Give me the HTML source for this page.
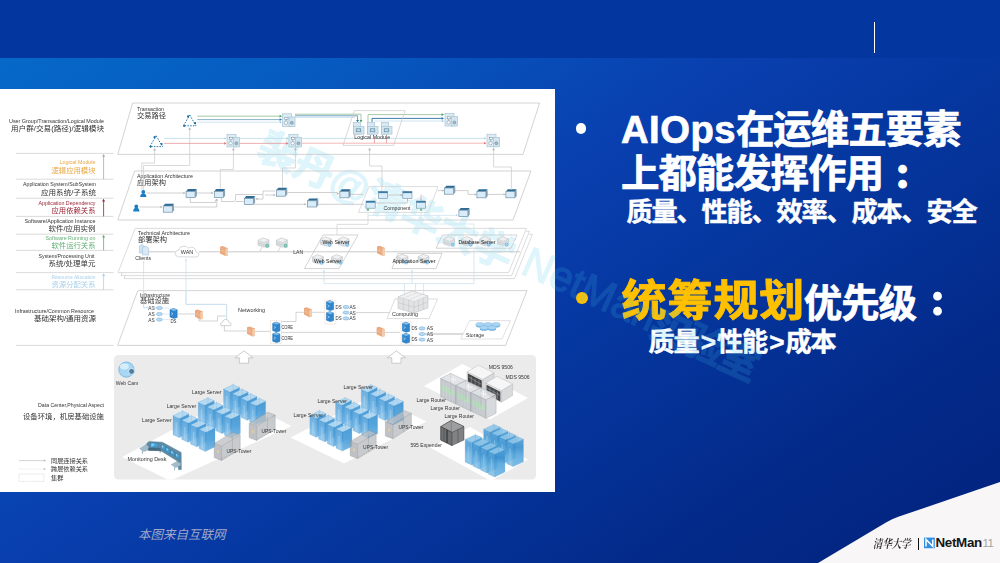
<!DOCTYPE html>
<html lang="zh-CN">
<head>
<meta charset="utf-8">
<title>AIOps在运维五要素上都能发挥作用</title>
<style>
html,body{margin:0;padding:0;}
body{width:1000px;height:563px;overflow:hidden;position:relative;font-family:"Liberation Sans","Noto Sans CJK SC",sans-serif;
 background:linear-gradient(146deg,rgb(6,108,203) 0%,rgb(6,103,200) 7%,rgb(6,91,193) 22%,rgb(8,70,180) 39%,rgb(9,63,175) 45%,rgb(5,54,158) 61%,rgb(4,47,146) 73%,rgb(3,42,138) 80%,rgb(2,34,124) 100%);}
.topband{position:absolute;left:0;top:0;width:1000px;height:58px;background:#03369e;}
.vline{position:absolute;left:874px;top:22px;width:1.4px;height:31px;background:#fff;}
.panel{position:absolute;left:0;top:89px;width:555px;height:403.4px;background:#fff;}
svg.dia{position:absolute;left:0;top:0;filter:blur(0.3px);}
svg.dia text,svg.wmtop text{font-family:"Liberation Sans","Noto Sans CJK SC",sans-serif;}
svg.wmtop{position:absolute;left:0;top:0;pointer-events:none;filter:blur(0.3px);}
.b{position:absolute;border-radius:50%;}
.h1{position:absolute;left:621px;color:#fff;font-weight:bold;font-size:38.5px;letter-spacing:-1.1px;line-height:44px;white-space:nowrap;margin:0;-webkit-text-stroke:0.7px #fff;}
.h1 .lat{letter-spacing:0.5px;font-size:38.2px;}
.jp{font-family:"Liberation Sans","Noto Sans CJK JP",sans-serif;font-size:37px;letter-spacing:0;margin-left:5px;display:inline-block;-webkit-text-stroke:3.4px #fff;transform:translateY(var(--dy,0px)) scale(0.84);transform-origin:50% 50%;}
.sub{position:absolute;color:#fff;font-weight:bold;font-size:26.2px;letter-spacing:-1.2px;line-height:30px;white-space:nowrap;margin:0;-webkit-text-stroke:0.45px #fff;}
.foot{position:absolute;left:138px;top:525.5px;font-size:12.5px;line-height:18px;font-style:italic;color:#a0a9c6;white-space:nowrap;}
.corner{position:absolute;left:0;top:0;}
.thu{position:absolute;left:873px;top:535.6px;font-family:"Liberation Serif","Noto Serif CJK SC",serif;font-size:10px;line-height:16px;color:#1a1a1a;font-style:italic;font-weight:600;white-space:nowrap;transform-origin:0 50%;transform:scale(0.94,1.2);}
.sep{position:absolute;left:917.6px;top:538px;width:1.2px;height:12px;background:#111;}
.nm{position:absolute;left:935.4px;top:535.2px;font-size:13.4px;line-height:16px;font-weight:bold;color:#151515;letter-spacing:-0.3px;white-space:nowrap;}
.pg{position:absolute;left:982.6px;top:535.4px;font-size:11.5px;line-height:16px;color:#a3a3a3;white-space:nowrap;letter-spacing:-0.6px;}
</style>
</head>
<body>
<div class="topband"></div>
<div class="vline"></div>
<div class="panel"></div>
<svg class="corner" width="1000" height="563" viewBox="0 0 1000 563">
<path d="M818,563 L886,522.4 Q892,519 899,516.6 L1000,482 L1000,563 Z" fill="#f8f6f6"/>
<rect x="924" y="537.6" width="10.8" height="10.6" fill="#2f8fe2"/>
<path d="M926,546.4 V539.4 L932.8,546.4 V539.4" fill="none" stroke="#fff" stroke-width="1.5"/>
</svg>
<svg class="dia" width="1000" height="563" viewBox="0 0 1000 563">
<defs>
<linearGradient id="gLA" x1="0" y1="0" x2="0" y2="1"><stop offset="0" stop-color="#62a9de"/><stop offset="0.45" stop-color="#74b5e4"/><stop offset="1" stop-color="#95c8ec"/></linearGradient>
<linearGradient id="gRA" x1="0" y1="0" x2="0" y2="1"><stop offset="0" stop-color="#3f95d4"/><stop offset="0.5" stop-color="#4c9fda"/><stop offset="1" stop-color="#6fb4e4"/></linearGradient>
<linearGradient id="gLB" x1="0" y1="0" x2="0" y2="1"><stop offset="0" stop-color="#5aa5dc"/><stop offset="0.3" stop-color="#4c9bd5"/><stop offset="0.55" stop-color="#6cb3e3"/><stop offset="1" stop-color="#86c3ea"/></linearGradient>
<linearGradient id="gRB" x1="0" y1="0" x2="0" y2="1"><stop offset="0" stop-color="#4a9fd9"/><stop offset="0.3" stop-color="#3a8fce"/><stop offset="0.55" stop-color="#55a6dd"/><stop offset="1" stop-color="#6fb6e5"/></linearGradient>
<clipPath id="cpL"><rect x="0" y="89" width="555" height="404"/></clipPath></defs>
<g clip-path="url(#cpL)"><g transform="translate(254.5,156.5) rotate(24.4)" opacity="0.175" font-size="40" font-weight="bold" fill="#48c6e8" stroke="#48c6e8" stroke-width="1.1">
<text x="0" y="0" textLength="277" lengthAdjust="spacing">裴丹@清华大学</text>
<text x="289" y="-3.5" font-size="42.5" font-weight="normal" stroke-width="1.3" textLength="143" lengthAdjust="spacingAndGlyphs">NetMan</text>
<text x="430" y="0" textLength="116" lengthAdjust="spacing">实验室</text>
</g></g>
<path d="M16.0,153.4 L113.4,153.4" fill="none" stroke="#d2d2d2" stroke-width="0.8"/>
<path d="M16.0,179.2 L113.4,179.2" fill="none" stroke="#d2d2d2" stroke-width="0.8"/>
<path d="M16.0,198.2 L113.4,198.2" fill="none" stroke="#d2d2d2" stroke-width="0.8"/>
<path d="M16.0,216.4 L113.4,216.4" fill="none" stroke="#d2d2d2" stroke-width="0.8"/>
<path d="M16.0,234.2 L113.4,234.2" fill="none" stroke="#d2d2d2" stroke-width="0.8"/>
<path d="M16.0,250.4 L113.4,250.4" fill="none" stroke="#d2d2d2" stroke-width="0.8"/>
<path d="M16.0,272.6 L113.4,272.6" fill="none" stroke="#d2d2d2" stroke-width="0.8"/>
<path d="M16.0,289.8 L113.4,289.8" fill="none" stroke="#d2d2d2" stroke-width="0.8"/>
<path d="M16.0,345.4 L113.4,345.4" fill="none" stroke="#d2d2d2" stroke-width="0.8"/>
<path d="M103.6,179.2 L103.6,155.4" fill="none" stroke="#a8a8a8" stroke-width="0.8"/>
<polygon points="103.6,154.0 102.1,156.7 105.1,156.7" fill="#a8a8a8" stroke="none" stroke-width="0"/>
<path d="M103.6,216.4 L103.6,200.2" fill="none" stroke="#9b2335" stroke-width="0.8"/>
<polygon points="103.6,198.8 102.1,201.5 105.1,201.5" fill="#9b2335" stroke="none" stroke-width="0"/>
<path d="M103.6,250.4 L103.6,236.2" fill="none" stroke="#5fae73" stroke-width="0.8"/>
<polygon points="103.6,234.8 102.1,237.5 105.1,237.5" fill="#5fae73" stroke="none" stroke-width="0"/>
<path d="M103.6,289.8 L103.6,274.6" fill="none" stroke="#a9cfe9" stroke-width="0.8"/>
<polygon points="103.6,273.2 102.1,275.9 105.1,275.9" fill="#a9cfe9" stroke="none" stroke-width="0"/>
<text x="104" y="122.8" font-size="5.4" text-anchor="end" textLength="95" lengthAdjust="spacingAndGlyphs" fill="#333">User Group/Transaction/Logical Module</text>
<text x="104" y="130.6" font-size="7.2" text-anchor="end" textLength="93" lengthAdjust="spacingAndGlyphs" fill="#333">用户群/交易(路径)/逻辑模块</text>
<text x="95.5" y="164.2" font-size="5.4" text-anchor="end" textLength="36" lengthAdjust="spacingAndGlyphs" fill="#e9a743">Logical Module</text>
<text x="95.5" y="172.6" font-size="7.2" text-anchor="end" textLength="44" lengthAdjust="spacingAndGlyphs" fill="#e9a743">逻辑应用模块</text>
<text x="96" y="186.4" font-size="5.4" text-anchor="end" textLength="73" lengthAdjust="spacingAndGlyphs" fill="#333">Application System/SubSystem</text>
<text x="96" y="194.6" font-size="7.2" text-anchor="end" textLength="55" lengthAdjust="spacingAndGlyphs" fill="#333">应用系统/子系统</text>
<text x="95.5" y="204.8" font-size="5.4" text-anchor="end" textLength="57" lengthAdjust="spacingAndGlyphs" fill="#9b2335">Application Dependency</text>
<text x="95.5" y="213.2" font-size="7.2" text-anchor="end" textLength="44" lengthAdjust="spacingAndGlyphs" fill="#9b2335">应用依赖关系</text>
<text x="95.5" y="222.6" font-size="5.4" text-anchor="end" textLength="71" lengthAdjust="spacingAndGlyphs" fill="#333">Software/Application Instance</text>
<text x="95.5" y="230.6" font-size="7.2" text-anchor="end" textLength="47" lengthAdjust="spacingAndGlyphs" fill="#333">软件/应用实例</text>
<text x="95.5" y="239.8" font-size="5.4" text-anchor="end" textLength="50" lengthAdjust="spacingAndGlyphs" fill="#5fae73">Software Running on</text>
<text x="95.5" y="248.0" font-size="7.2" text-anchor="end" textLength="44" lengthAdjust="spacingAndGlyphs" fill="#5fae73">软件运行关系</text>
<text x="94.5" y="258.2" font-size="5.4" text-anchor="end" textLength="56" lengthAdjust="spacingAndGlyphs" fill="#333">System/Processing Unit</text>
<text x="95.5" y="266.0" font-size="7.2" text-anchor="end" textLength="47" lengthAdjust="spacingAndGlyphs" fill="#333">系统/处理单元</text>
<text x="95.5" y="278.8" font-size="5.4" text-anchor="end" textLength="44" lengthAdjust="spacingAndGlyphs" fill="#a9cfe9">Resource Allocation</text>
<text x="95.5" y="286.8" font-size="7.2" text-anchor="end" textLength="44" lengthAdjust="spacingAndGlyphs" fill="#a9cfe9">资源分配关系</text>
<text x="94" y="312.6" font-size="5.4" text-anchor="end" textLength="79" lengthAdjust="spacingAndGlyphs" fill="#333">Infrastructure/Common Resource</text>
<text x="96" y="320.8" font-size="7.2" text-anchor="end" textLength="62" lengthAdjust="spacingAndGlyphs" fill="#333">基础架构/通用资源</text>
<text x="104" y="407.0" font-size="5.4" text-anchor="end" textLength="66" lengthAdjust="spacingAndGlyphs" fill="#333">Data Center,Physical Aspect</text>
<text x="104" y="419.2" font-size="7.4" text-anchor="end" textLength="81" lengthAdjust="spacingAndGlyphs" fill="#333">设备环境，机房基础设施</text>
<path d="M19.0,460.6 L44.0,460.6" fill="none" stroke="#c8c8c8" stroke-width="0.8"/>
<polygon points="46.0,460.6 43.8,459.3 43.8,461.9" fill="#c0c0c0" stroke="none" stroke-width="0"/>
<text x="51" y="462.8" font-size="6.2" textLength="37" lengthAdjust="spacingAndGlyphs" fill="#333">同层连接关系</text>
<path d="M19.0,469.0 L44.0,469.0" fill="none" stroke="#d8d8d8" stroke-width="0.7" stroke-dasharray="0.8 0.8"/>
<polygon points="46.0,469.0 43.8,467.7 43.8,470.3" fill="#c0c0c0" stroke="none" stroke-width="0"/>
<text x="51" y="471.4" font-size="6.2" textLength="37" lengthAdjust="spacingAndGlyphs" fill="#333">跨层依赖关系</text>
<rect x="19" y="474" width="25" height="7.4" fill="none" stroke="#cfcfcf" stroke-width="0.7" stroke-dasharray="1 0.8"/>
<text x="51" y="480.2" font-size="6.2" textLength="12.5" lengthAdjust="spacingAndGlyphs" fill="#333">集群</text>
<rect x="114" y="355" width="422" height="124.6" rx="4.5" fill="#ebebeb"/>
<polygon points="244.0,350.8 253.0,357.8 248.6,357.8 248.6,363.2 239.4,363.2 239.4,357.8 235.0,357.8" fill="#fff" stroke="#b9b9b9" stroke-width="0.7"/>
<polygon points="396.4,350.8 405.4,357.8 401.0,357.8 401.0,363.2 391.8,363.2 391.8,357.8 387.4,357.8" fill="#fff" stroke="#b9b9b9" stroke-width="0.7"/>
<polygon points="122.0,457.0 233.0,397.0 291.5,426.0 173.0,479.6 167.5,479.6" fill="#fff" stroke="none" stroke-width="0"/>
<polygon points="290.6,437.6 373.0,395.4 426.4,421.4 344.0,463.6" fill="#fff" stroke="none" stroke-width="0"/>
<polygon points="424.0,386.0 462.4,364.0 528.0,398.0 489.6,419.6" fill="#fff" stroke="none" stroke-width="0"/>
<polygon points="430.0,447.6 470.0,427.0 528.0,459.6 491.0,481.0" fill="#fff" stroke="none" stroke-width="0"/>
<circle cx="126.4" cy="369.6" r="7.6" fill="#a9d6f3" stroke="#69b2e3" stroke-width="0.8"/>
<ellipse cx="124.4" cy="366.4" rx="4.4" ry="3" fill="#d7edfa"/>
<circle cx="131.6" cy="371.4" r="3" fill="#4f7f9f" stroke="#d9eefb" stroke-width="0.9"/>
<text x="127" y="384.6" font-size="5.8" text-anchor="middle" textLength="22.5" lengthAdjust="spacingAndGlyphs" fill="#333">Web Cam</text>
<g opacity="0.93">
<polygon points="223.6,389.1 229.9,392.0 229.9,411.0 223.6,408.1" fill="url(#gLA)" stroke="#3f92d0" stroke-width="0.25"/>
<path d="M226.8,396.1 L226.8,408.4" fill="none" stroke="#a9d5f2" stroke-width="1.4" opacity="0.6"/>
<polygon points="229.9,392.0 239.5,387.4 239.5,406.4 229.9,411.0" fill="url(#gRA)" stroke="#3f92d0" stroke-width="0.25"/>
<polygon points="223.6,389.1 233.2,384.5 239.5,387.4 229.9,392.0" fill="#b3d9f2" stroke="#3f92d0" stroke-width="0.25"/>
<path d="M233.2,383.3 L233.2,390.5" fill="none" stroke="#3f92d0" stroke-width="0.25" opacity="0.7"/>
</g>
<g opacity="0.93">
<polygon points="232.3,393.7 238.6,396.6 238.6,415.6 232.3,412.7" fill="url(#gLA)" stroke="#3f92d0" stroke-width="0.25"/>
<path d="M235.4,400.7 L235.4,413.0" fill="none" stroke="#a9d5f2" stroke-width="1.4" opacity="0.6"/>
<polygon points="238.6,396.6 248.2,392.0 248.2,411.0 238.6,415.6" fill="url(#gRA)" stroke="#3f92d0" stroke-width="0.25"/>
<polygon points="232.3,393.7 241.9,389.1 248.2,392.0 238.6,396.6" fill="#b3d9f2" stroke="#3f92d0" stroke-width="0.25"/>
<path d="M241.9,387.9 L241.9,395.1" fill="none" stroke="#3f92d0" stroke-width="0.25" opacity="0.7"/>
</g>
<g opacity="0.93">
<polygon points="241.0,398.3 247.3,401.2 247.3,420.2 241.0,417.3" fill="url(#gLA)" stroke="#3f92d0" stroke-width="0.25"/>
<path d="M244.2,405.2 L244.2,417.6" fill="none" stroke="#a9d5f2" stroke-width="1.4" opacity="0.6"/>
<polygon points="247.3,401.2 256.9,396.6 256.9,415.6 247.3,420.2" fill="url(#gRA)" stroke="#3f92d0" stroke-width="0.25"/>
<polygon points="241.0,398.3 250.6,393.7 256.9,396.6 247.3,401.2" fill="#b3d9f2" stroke="#3f92d0" stroke-width="0.25"/>
<path d="M250.6,392.5 L250.6,399.7" fill="none" stroke="#3f92d0" stroke-width="0.25" opacity="0.7"/>
</g>
<g opacity="0.93">
<polygon points="249.7,402.9 256.0,405.8 256.0,424.8 249.7,421.9" fill="url(#gLA)" stroke="#3f92d0" stroke-width="0.25"/>
<path d="M252.8,409.9 L252.8,422.2" fill="none" stroke="#a9d5f2" stroke-width="1.4" opacity="0.6"/>
<polygon points="256.0,405.8 265.6,401.2 265.6,420.2 256.0,424.8" fill="url(#gRA)" stroke="#3f92d0" stroke-width="0.25"/>
<polygon points="249.7,402.9 259.3,398.3 265.6,401.2 256.0,405.8" fill="#b3d9f2" stroke="#3f92d0" stroke-width="0.25"/>
<path d="M259.3,397.1 L259.3,404.3" fill="none" stroke="#3f92d0" stroke-width="0.25" opacity="0.7"/>
</g>
<text x="221.5" y="394" font-size="5.8" text-anchor="end" textLength="29.5" lengthAdjust="spacingAndGlyphs" fill="#333">Large Server</text>
<g opacity="0.93">
<polygon points="198.3,402.4 204.6,405.3 204.6,424.3 198.3,421.4" fill="url(#gLA)" stroke="#3f92d0" stroke-width="0.25"/>
<path d="M201.4,409.4 L201.4,421.7" fill="none" stroke="#a9d5f2" stroke-width="1.4" opacity="0.6"/>
<polygon points="204.6,405.3 214.2,400.7 214.2,419.7 204.6,424.3" fill="url(#gRA)" stroke="#3f92d0" stroke-width="0.25"/>
<polygon points="198.3,402.4 207.9,397.8 214.2,400.7 204.6,405.3" fill="#b3d9f2" stroke="#3f92d0" stroke-width="0.25"/>
<path d="M207.9,396.6 L207.9,403.8" fill="none" stroke="#3f92d0" stroke-width="0.25" opacity="0.7"/>
</g>
<g opacity="0.93">
<polygon points="207.0,407.0 213.3,409.9 213.3,428.9 207.0,426.0" fill="url(#gLA)" stroke="#3f92d0" stroke-width="0.25"/>
<path d="M210.1,414.0 L210.1,426.3" fill="none" stroke="#a9d5f2" stroke-width="1.4" opacity="0.6"/>
<polygon points="213.3,409.9 222.9,405.3 222.9,424.3 213.3,428.9" fill="url(#gRA)" stroke="#3f92d0" stroke-width="0.25"/>
<polygon points="207.0,407.0 216.6,402.4 222.9,405.3 213.3,409.9" fill="#b3d9f2" stroke="#3f92d0" stroke-width="0.25"/>
<path d="M216.6,401.2 L216.6,408.4" fill="none" stroke="#3f92d0" stroke-width="0.25" opacity="0.7"/>
</g>
<g opacity="0.93">
<polygon points="215.7,411.6 222.0,414.5 222.0,433.5 215.7,430.6" fill="url(#gLA)" stroke="#3f92d0" stroke-width="0.25"/>
<path d="M218.8,418.6 L218.8,430.9" fill="none" stroke="#a9d5f2" stroke-width="1.4" opacity="0.6"/>
<polygon points="222.0,414.5 231.6,409.9 231.6,428.9 222.0,433.5" fill="url(#gRA)" stroke="#3f92d0" stroke-width="0.25"/>
<polygon points="215.7,411.6 225.3,407.0 231.6,409.9 222.0,414.5" fill="#b3d9f2" stroke="#3f92d0" stroke-width="0.25"/>
<path d="M225.3,405.8 L225.3,413.0" fill="none" stroke="#3f92d0" stroke-width="0.25" opacity="0.7"/>
</g>
<g opacity="0.93">
<polygon points="224.4,416.2 230.7,419.1 230.7,438.1 224.4,435.2" fill="url(#gLA)" stroke="#3f92d0" stroke-width="0.25"/>
<path d="M227.5,423.2 L227.5,435.5" fill="none" stroke="#a9d5f2" stroke-width="1.4" opacity="0.6"/>
<polygon points="230.7,419.1 240.3,414.5 240.3,433.5 230.7,438.1" fill="url(#gRA)" stroke="#3f92d0" stroke-width="0.25"/>
<polygon points="224.4,416.2 234.0,411.6 240.3,414.5 230.7,419.1" fill="#b3d9f2" stroke="#3f92d0" stroke-width="0.25"/>
<path d="M234.0,410.4 L234.0,417.6" fill="none" stroke="#3f92d0" stroke-width="0.25" opacity="0.7"/>
</g>
<text x="196.2" y="408" font-size="5.8" text-anchor="end" textLength="29.5" lengthAdjust="spacingAndGlyphs" fill="#333">Large Server</text>
<g opacity="0.93">
<polygon points="173.0,415.7 179.3,418.6 179.3,437.6 173.0,434.7" fill="url(#gLA)" stroke="#3f92d0" stroke-width="0.25"/>
<path d="M176.2,422.6 L176.2,434.9" fill="none" stroke="#a9d5f2" stroke-width="1.4" opacity="0.6"/>
<polygon points="179.3,418.6 188.9,414.0 188.9,433.0 179.3,437.6" fill="url(#gRA)" stroke="#3f92d0" stroke-width="0.25"/>
<polygon points="173.0,415.7 182.6,411.1 188.9,414.0 179.3,418.6" fill="#b3d9f2" stroke="#3f92d0" stroke-width="0.25"/>
<path d="M182.6,409.9 L182.6,417.1" fill="none" stroke="#3f92d0" stroke-width="0.25" opacity="0.7"/>
</g>
<g opacity="0.93">
<polygon points="181.7,420.3 188.0,423.2 188.0,442.2 181.7,439.3" fill="url(#gLA)" stroke="#3f92d0" stroke-width="0.25"/>
<path d="M184.8,427.2 L184.8,439.6" fill="none" stroke="#a9d5f2" stroke-width="1.4" opacity="0.6"/>
<polygon points="188.0,423.2 197.6,418.6 197.6,437.6 188.0,442.2" fill="url(#gRA)" stroke="#3f92d0" stroke-width="0.25"/>
<polygon points="181.7,420.3 191.3,415.7 197.6,418.6 188.0,423.2" fill="#b3d9f2" stroke="#3f92d0" stroke-width="0.25"/>
<path d="M191.3,414.5 L191.3,421.7" fill="none" stroke="#3f92d0" stroke-width="0.25" opacity="0.7"/>
</g>
<g opacity="0.93">
<polygon points="190.4,424.9 196.7,427.8 196.7,446.8 190.4,443.9" fill="url(#gLA)" stroke="#3f92d0" stroke-width="0.25"/>
<path d="M193.6,431.8 L193.6,444.1" fill="none" stroke="#a9d5f2" stroke-width="1.4" opacity="0.6"/>
<polygon points="196.7,427.8 206.3,423.2 206.3,442.2 196.7,446.8" fill="url(#gRA)" stroke="#3f92d0" stroke-width="0.25"/>
<polygon points="190.4,424.9 200.0,420.3 206.3,423.2 196.7,427.8" fill="#b3d9f2" stroke="#3f92d0" stroke-width="0.25"/>
<path d="M200.0,419.1 L200.0,426.3" fill="none" stroke="#3f92d0" stroke-width="0.25" opacity="0.7"/>
</g>
<g opacity="0.93">
<polygon points="199.1,429.5 205.4,432.4 205.4,451.4 199.1,448.5" fill="url(#gLA)" stroke="#3f92d0" stroke-width="0.25"/>
<path d="M202.2,436.4 L202.2,448.8" fill="none" stroke="#a9d5f2" stroke-width="1.4" opacity="0.6"/>
<polygon points="205.4,432.4 215.0,427.8 215.0,446.8 205.4,451.4" fill="url(#gRA)" stroke="#3f92d0" stroke-width="0.25"/>
<polygon points="199.1,429.5 208.7,424.9 215.0,427.8 205.4,432.4" fill="#b3d9f2" stroke="#3f92d0" stroke-width="0.25"/>
<path d="M208.7,423.7 L208.7,430.9" fill="none" stroke="#3f92d0" stroke-width="0.25" opacity="0.7"/>
</g>
<text x="171.6" y="422" font-size="5.8" text-anchor="end" textLength="29.5" lengthAdjust="spacingAndGlyphs" fill="#333">Large Server</text>
<g opacity="0.74">
<polygon points="249.2,423.4 267.8,412.2 275.2,415.0 256.6,426.2" fill="#bcbec1" stroke="#777b80" stroke-width="0.35"/>
<polygon points="249.2,423.4 256.6,426.2 256.6,440.4 249.2,437.6" fill="#a9acb0" stroke="#777b80" stroke-width="0.4"/>
<polygon points="256.6,426.2 275.2,415.0 275.2,429.2 256.6,440.4" fill="#b6b9bc" stroke="#777b80" stroke-width="0.4"/>
<path d="M267.4,433.9 L267.4,416.7" fill="none" stroke="#777b80" stroke-width="0.4"/>
<rect x="252.0" y="430.2" width="1.6" height="2.8" fill="#e3c15f"/>
</g>
<text x="274" y="433.4" font-size="5.8" text-anchor="middle" textLength="25" lengthAdjust="spacingAndGlyphs" fill="#333">UPS-Tower</text>
<g opacity="0.74">
<polygon points="214.2,443.4 232.8,432.2 240.2,435.0 221.6,446.2" fill="#bcbec1" stroke="#777b80" stroke-width="0.35"/>
<polygon points="214.2,443.4 221.6,446.2 221.6,460.4 214.2,457.6" fill="#a9acb0" stroke="#777b80" stroke-width="0.4"/>
<polygon points="221.6,446.2 240.2,435.0 240.2,449.2 221.6,460.4" fill="#b6b9bc" stroke="#777b80" stroke-width="0.4"/>
<path d="M232.4,453.9 L232.4,436.7" fill="none" stroke="#777b80" stroke-width="0.4"/>
<rect x="217.0" y="450.2" width="1.6" height="2.8" fill="#e3c15f"/>
</g>
<text x="239" y="453.2" font-size="5.8" text-anchor="middle" textLength="25" lengthAdjust="spacingAndGlyphs" fill="#333">UPS-Tower</text>
<g opacity="0.93">
<polygon points="361.3,389.3 367.6,392.2 367.6,411.2 361.3,408.3" fill="url(#gLA)" stroke="#3f92d0" stroke-width="0.25"/>
<path d="M364.4,396.2 L364.4,408.6" fill="none" stroke="#a9d5f2" stroke-width="1.4" opacity="0.6"/>
<polygon points="367.6,392.2 377.2,387.6 377.2,406.6 367.6,411.2" fill="url(#gRA)" stroke="#3f92d0" stroke-width="0.25"/>
<polygon points="361.3,389.3 370.9,384.7 377.2,387.6 367.6,392.2" fill="#b3d9f2" stroke="#3f92d0" stroke-width="0.25"/>
<path d="M370.9,383.5 L370.9,390.7" fill="none" stroke="#3f92d0" stroke-width="0.25" opacity="0.7"/>
</g>
<g opacity="0.93">
<polygon points="370.0,393.9 376.3,396.8 376.3,415.8 370.0,412.9" fill="url(#gLA)" stroke="#3f92d0" stroke-width="0.25"/>
<path d="M373.1,400.9 L373.1,413.2" fill="none" stroke="#a9d5f2" stroke-width="1.4" opacity="0.6"/>
<polygon points="376.3,396.8 385.9,392.2 385.9,411.2 376.3,415.8" fill="url(#gRA)" stroke="#3f92d0" stroke-width="0.25"/>
<polygon points="370.0,393.9 379.6,389.3 385.9,392.2 376.3,396.8" fill="#b3d9f2" stroke="#3f92d0" stroke-width="0.25"/>
<path d="M379.6,388.1 L379.6,395.3" fill="none" stroke="#3f92d0" stroke-width="0.25" opacity="0.7"/>
</g>
<g opacity="0.93">
<polygon points="378.7,398.5 385.0,401.4 385.0,420.4 378.7,417.5" fill="url(#gLA)" stroke="#3f92d0" stroke-width="0.25"/>
<path d="M381.8,405.4 L381.8,417.8" fill="none" stroke="#a9d5f2" stroke-width="1.4" opacity="0.6"/>
<polygon points="385.0,401.4 394.6,396.8 394.6,415.8 385.0,420.4" fill="url(#gRA)" stroke="#3f92d0" stroke-width="0.25"/>
<polygon points="378.7,398.5 388.3,393.9 394.6,396.8 385.0,401.4" fill="#b3d9f2" stroke="#3f92d0" stroke-width="0.25"/>
<path d="M388.3,392.7 L388.3,399.9" fill="none" stroke="#3f92d0" stroke-width="0.25" opacity="0.7"/>
</g>
<g opacity="0.93">
<polygon points="387.4,403.1 393.7,406.0 393.7,425.0 387.4,422.1" fill="url(#gLA)" stroke="#3f92d0" stroke-width="0.25"/>
<path d="M390.5,410.1 L390.5,422.4" fill="none" stroke="#a9d5f2" stroke-width="1.4" opacity="0.6"/>
<polygon points="393.7,406.0 403.3,401.4 403.3,420.4 393.7,425.0" fill="url(#gRA)" stroke="#3f92d0" stroke-width="0.25"/>
<polygon points="387.4,403.1 397.0,398.5 403.3,401.4 393.7,406.0" fill="#b3d9f2" stroke="#3f92d0" stroke-width="0.25"/>
<path d="M397.0,397.3 L397.0,404.5" fill="none" stroke="#3f92d0" stroke-width="0.25" opacity="0.7"/>
</g>
<text x="373" y="389" font-size="5.8" text-anchor="end" textLength="29.5" lengthAdjust="spacingAndGlyphs" fill="#333">Large Server</text>
<g opacity="0.93">
<polygon points="335.6,402.3 341.9,405.2 341.9,424.2 335.6,421.3" fill="url(#gLA)" stroke="#3f92d0" stroke-width="0.25"/>
<path d="M338.7,409.2 L338.7,421.6" fill="none" stroke="#a9d5f2" stroke-width="1.4" opacity="0.6"/>
<polygon points="341.9,405.2 351.5,400.6 351.5,419.6 341.9,424.2" fill="url(#gRA)" stroke="#3f92d0" stroke-width="0.25"/>
<polygon points="335.6,402.3 345.2,397.7 351.5,400.6 341.9,405.2" fill="#b3d9f2" stroke="#3f92d0" stroke-width="0.25"/>
<path d="M345.2,396.5 L345.2,403.7" fill="none" stroke="#3f92d0" stroke-width="0.25" opacity="0.7"/>
</g>
<g opacity="0.93">
<polygon points="344.3,406.9 350.6,409.8 350.6,428.8 344.3,425.9" fill="url(#gLA)" stroke="#3f92d0" stroke-width="0.25"/>
<path d="M347.4,413.9 L347.4,426.2" fill="none" stroke="#a9d5f2" stroke-width="1.4" opacity="0.6"/>
<polygon points="350.6,409.8 360.2,405.2 360.2,424.2 350.6,428.8" fill="url(#gRA)" stroke="#3f92d0" stroke-width="0.25"/>
<polygon points="344.3,406.9 353.9,402.3 360.2,405.2 350.6,409.8" fill="#b3d9f2" stroke="#3f92d0" stroke-width="0.25"/>
<path d="M353.9,401.1 L353.9,408.3" fill="none" stroke="#3f92d0" stroke-width="0.25" opacity="0.7"/>
</g>
<g opacity="0.93">
<polygon points="353.0,411.5 359.3,414.4 359.3,433.4 353.0,430.5" fill="url(#gLA)" stroke="#3f92d0" stroke-width="0.25"/>
<path d="M356.1,418.4 L356.1,430.8" fill="none" stroke="#a9d5f2" stroke-width="1.4" opacity="0.6"/>
<polygon points="359.3,414.4 368.9,409.8 368.9,428.8 359.3,433.4" fill="url(#gRA)" stroke="#3f92d0" stroke-width="0.25"/>
<polygon points="353.0,411.5 362.6,406.9 368.9,409.8 359.3,414.4" fill="#b3d9f2" stroke="#3f92d0" stroke-width="0.25"/>
<path d="M362.6,405.7 L362.6,412.9" fill="none" stroke="#3f92d0" stroke-width="0.25" opacity="0.7"/>
</g>
<g opacity="0.93">
<polygon points="361.7,416.1 368.0,419.0 368.0,438.0 361.7,435.1" fill="url(#gLA)" stroke="#3f92d0" stroke-width="0.25"/>
<path d="M364.8,423.1 L364.8,435.4" fill="none" stroke="#a9d5f2" stroke-width="1.4" opacity="0.6"/>
<polygon points="368.0,419.0 377.6,414.4 377.6,433.4 368.0,438.0" fill="url(#gRA)" stroke="#3f92d0" stroke-width="0.25"/>
<polygon points="361.7,416.1 371.3,411.5 377.6,414.4 368.0,419.0" fill="#b3d9f2" stroke="#3f92d0" stroke-width="0.25"/>
<path d="M371.3,410.3 L371.3,417.5" fill="none" stroke="#3f92d0" stroke-width="0.25" opacity="0.7"/>
</g>
<text x="347" y="403" font-size="5.8" text-anchor="end" textLength="29.5" lengthAdjust="spacingAndGlyphs" fill="#333">Large Server</text>
<g opacity="0.93">
<polygon points="309.9,415.3 316.2,418.2 316.2,437.2 309.9,434.3" fill="url(#gLA)" stroke="#3f92d0" stroke-width="0.25"/>
<path d="M313.0,422.2 L313.0,434.6" fill="none" stroke="#a9d5f2" stroke-width="1.4" opacity="0.6"/>
<polygon points="316.2,418.2 325.8,413.6 325.8,432.6 316.2,437.2" fill="url(#gRA)" stroke="#3f92d0" stroke-width="0.25"/>
<polygon points="309.9,415.3 319.5,410.7 325.8,413.6 316.2,418.2" fill="#b3d9f2" stroke="#3f92d0" stroke-width="0.25"/>
<path d="M319.5,409.5 L319.5,416.7" fill="none" stroke="#3f92d0" stroke-width="0.25" opacity="0.7"/>
</g>
<g opacity="0.93">
<polygon points="318.6,419.9 324.9,422.8 324.9,441.8 318.6,438.9" fill="url(#gLA)" stroke="#3f92d0" stroke-width="0.25"/>
<path d="M321.8,426.9 L321.8,439.2" fill="none" stroke="#a9d5f2" stroke-width="1.4" opacity="0.6"/>
<polygon points="324.9,422.8 334.5,418.2 334.5,437.2 324.9,441.8" fill="url(#gRA)" stroke="#3f92d0" stroke-width="0.25"/>
<polygon points="318.6,419.9 328.2,415.3 334.5,418.2 324.9,422.8" fill="#b3d9f2" stroke="#3f92d0" stroke-width="0.25"/>
<path d="M328.2,414.1 L328.2,421.3" fill="none" stroke="#3f92d0" stroke-width="0.25" opacity="0.7"/>
</g>
<g opacity="0.93">
<polygon points="327.3,424.5 333.6,427.4 333.6,446.4 327.3,443.5" fill="url(#gLA)" stroke="#3f92d0" stroke-width="0.25"/>
<path d="M330.4,431.4 L330.4,443.8" fill="none" stroke="#a9d5f2" stroke-width="1.4" opacity="0.6"/>
<polygon points="333.6,427.4 343.2,422.8 343.2,441.8 333.6,446.4" fill="url(#gRA)" stroke="#3f92d0" stroke-width="0.25"/>
<polygon points="327.3,424.5 336.9,419.9 343.2,422.8 333.6,427.4" fill="#b3d9f2" stroke="#3f92d0" stroke-width="0.25"/>
<path d="M336.9,418.7 L336.9,425.9" fill="none" stroke="#3f92d0" stroke-width="0.25" opacity="0.7"/>
</g>
<g opacity="0.93">
<polygon points="336.0,429.1 342.3,432.0 342.3,451.0 336.0,448.1" fill="url(#gLA)" stroke="#3f92d0" stroke-width="0.25"/>
<path d="M339.1,436.1 L339.1,448.4" fill="none" stroke="#a9d5f2" stroke-width="1.4" opacity="0.6"/>
<polygon points="342.3,432.0 351.9,427.4 351.9,446.4 342.3,451.0" fill="url(#gRA)" stroke="#3f92d0" stroke-width="0.25"/>
<polygon points="336.0,429.1 345.6,424.5 351.9,427.4 342.3,432.0" fill="#b3d9f2" stroke="#3f92d0" stroke-width="0.25"/>
<path d="M345.6,423.3 L345.6,430.5" fill="none" stroke="#3f92d0" stroke-width="0.25" opacity="0.7"/>
</g>
<text x="323" y="417" font-size="5.8" text-anchor="end" textLength="29.5" lengthAdjust="spacingAndGlyphs" fill="#333">Large Server</text>
<g opacity="0.74">
<polygon points="385.4,421.8 404.0,410.6 411.4,413.4 392.8,424.6" fill="#bcbec1" stroke="#777b80" stroke-width="0.35"/>
<polygon points="385.4,421.8 392.8,424.6 392.8,438.8 385.4,436.0" fill="#a9acb0" stroke="#777b80" stroke-width="0.4"/>
<polygon points="392.8,424.6 411.4,413.4 411.4,427.6 392.8,438.8" fill="#b6b9bc" stroke="#777b80" stroke-width="0.4"/>
<path d="M403.6,432.3 L403.6,415.1" fill="none" stroke="#777b80" stroke-width="0.4"/>
<rect x="388.2" y="428.6" width="1.6" height="2.8" fill="#e3c15f"/>
</g>
<text x="411" y="429.2" font-size="5.8" text-anchor="middle" textLength="25" lengthAdjust="spacingAndGlyphs" fill="#333">UPS-Tower</text>
<g opacity="0.74">
<polygon points="350.2,441.6 368.8,430.4 376.2,433.2 357.6,444.4" fill="#bcbec1" stroke="#777b80" stroke-width="0.35"/>
<polygon points="350.2,441.6 357.6,444.4 357.6,458.6 350.2,455.8" fill="#a9acb0" stroke="#777b80" stroke-width="0.4"/>
<polygon points="357.6,444.4 376.2,433.2 376.2,447.4 357.6,458.6" fill="#b6b9bc" stroke="#777b80" stroke-width="0.4"/>
<path d="M368.4,452.1 L368.4,434.9" fill="none" stroke="#777b80" stroke-width="0.4"/>
<rect x="353.0" y="448.4" width="1.6" height="2.8" fill="#e3c15f"/>
</g>
<text x="375.6" y="449.2" font-size="5.8" text-anchor="middle" textLength="25" lengthAdjust="spacingAndGlyphs" fill="#333">UPS-Tower</text>
<polygon points="146.5,443.8 149.0,441.4 162.5,442.2 181.2,452.4 181.4,469.6 178.6,469.8 177.2,461.0 160.8,450.8 148.6,450.4 146.5,448.6" fill="#5f8ba2" stroke="#4f7b92" stroke-width="0.4"/>
<polygon points="148.6,447.8 160.4,448.2 161.0,450.8 148.6,450.4" fill="#44697e" stroke="none" stroke-width="0"/>
<polygon points="150.6,442.9 158.2,443.3 158.0,447.5 150.4,447.1" fill="#44a3da" stroke="#2f6f95" stroke-width="0.35"/>
<polygon points="151.4,443.5 155.0,443.7 152.4,446.6 151.2,446.5" fill="#8fcdee" stroke="none" stroke-width="0"/>
<polygon points="161.2,444.2 165.1,446.6 165.1,450.7 161.2,448.3" fill="#44a3da" stroke="#2f6f95" stroke-width="0.35"/>
<polygon points="161.8,445.1 163.8,446.3 162.0,448.2" fill="#8fcdee" stroke="none" stroke-width="0"/>
<polygon points="165.9,447.1 169.8,449.4 169.8,453.6 165.9,451.2" fill="#44a3da" stroke="#2f6f95" stroke-width="0.35"/>
<polygon points="166.5,447.9 168.5,449.2 166.7,451.1" fill="#8fcdee" stroke="none" stroke-width="0"/>
<polygon points="170.6,449.9 174.5,452.2 174.5,456.4 170.6,454.0" fill="#44a3da" stroke="#2f6f95" stroke-width="0.35"/>
<polygon points="171.2,450.8 173.2,452.0 171.4,453.9" fill="#8fcdee" stroke="none" stroke-width="0"/>
<polygon points="175.3,452.8 179.2,455.1 179.2,459.2 175.3,456.9" fill="#44a3da" stroke="#2f6f95" stroke-width="0.35"/>
<polygon points="175.9,453.6 177.9,454.9 176.1,456.8" fill="#8fcdee" stroke="none" stroke-width="0"/>
<polygon points="139.6,448.4 146.0,444.6 148.6,446.4 147.4,450.4 143.0,451.6" fill="#a3bcc9" stroke="#7d9aa9" stroke-width="0.35"/>
<polygon points="171.2,464.6 177.0,461.4 181.2,463.6 180.0,466.0 175.4,467.6" fill="#a3bcc9" stroke="#7d9aa9" stroke-width="0.35"/>
<path d="M142.4,451.2 L142.4,454.0" fill="none" stroke="#7d9aa9" stroke-width="0.7"/>
<path d="M174.6,467.2 L174.6,470.4" fill="none" stroke="#7d9aa9" stroke-width="0.7"/>
<path d="M160.2,450.8 L160.2,452.6" fill="none" stroke="#44697e" stroke-width="0.8"/>
<text x="147" y="461.4" font-size="5.8" text-anchor="middle" textLength="39" lengthAdjust="spacingAndGlyphs" fill="#333">Monitoring Desk</text>
<polygon points="482.7,379.6 494.0,372.8 494.0,384.4 482.7,391.2" fill="#d9dadb" stroke="#a4a6a8" stroke-width="0.35"/>
<polygon points="467.0,372.0 478.3,365.2 494.0,372.8 482.7,379.6" fill="#f6f6f6" stroke="#a4a6a8" stroke-width="0.35"/>
<polygon points="467.0,372.0 482.7,379.6 482.7,391.2 467.0,383.6" fill="#e9e9e9" stroke="#a4a6a8" stroke-width="0.35"/>
<polygon points="467.9,373.6 481.8,380.6 481.8,390.4 467.9,383.0" fill="#45484b" stroke="none" stroke-width="0"/>
<path d="M471.4,376.7 L471.4,384.1" fill="none" stroke="#a0a3a6" stroke-width="0.5"/>
<path d="M475.2,378.6 L475.2,386.0" fill="none" stroke="#a0a3a6" stroke-width="0.5"/>
<path d="M478.9,380.4 L478.9,387.8" fill="none" stroke="#a0a3a6" stroke-width="0.5"/>
<path d="M468.6,377.0 L481.1,384.2" fill="none" stroke="#9a9da0" stroke-width="0.6"/>
<polygon points="501.3,390.7 512.6,383.9 512.6,395.5 501.3,402.3" fill="#d9dadb" stroke="#a4a6a8" stroke-width="0.35"/>
<polygon points="485.6,383.1 496.9,376.3 512.6,383.9 501.3,390.7" fill="#f6f6f6" stroke="#a4a6a8" stroke-width="0.35"/>
<polygon points="485.6,383.1 501.3,390.7 501.3,402.3 485.6,394.7" fill="#e9e9e9" stroke="#a4a6a8" stroke-width="0.35"/>
<polygon points="486.5,384.7 500.4,391.7 500.4,401.5 486.5,394.1" fill="#45484b" stroke="none" stroke-width="0"/>
<path d="M490.0,387.8 L490.0,395.2" fill="none" stroke="#a0a3a6" stroke-width="0.5"/>
<path d="M493.8,389.7 L493.8,397.1" fill="none" stroke="#a0a3a6" stroke-width="0.5"/>
<path d="M497.5,391.5 L497.5,398.9" fill="none" stroke="#a0a3a6" stroke-width="0.5"/>
<path d="M487.2,388.1 L499.7,395.3" fill="none" stroke="#9a9da0" stroke-width="0.6"/>
<text x="500.8" y="368.8" font-size="5.2" text-anchor="middle" textLength="24" lengthAdjust="spacingAndGlyphs" fill="#333">MDS 9506</text>
<text x="517.6" y="379.2" font-size="5.2" text-anchor="middle" textLength="24" lengthAdjust="spacingAndGlyphs" fill="#333">MDS 9506</text>
<g opacity="0.9">
<polygon points="440.6,378.3 455.8,385.5 455.8,404.0 440.6,396.8" fill="#bfc4ca" stroke="#8d9196" stroke-width="0.35"/>
<polygon points="441.8,384.7 454.6,390.7 454.6,396.9 441.8,390.9" fill="#a9dcae" stroke="none" stroke-width="0" opacity="0.75"/>
<path d="M443.6,381.2 L443.6,397.2" fill="none" stroke="#d4d8dc" stroke-width="0.5"/>
<path d="M446.7,382.7 L446.7,398.7" fill="none" stroke="#d4d8dc" stroke-width="0.5"/>
<path d="M449.7,384.1 L449.7,400.1" fill="none" stroke="#d4d8dc" stroke-width="0.5"/>
<path d="M452.8,385.6 L452.8,401.6" fill="none" stroke="#d4d8dc" stroke-width="0.5"/>
<polygon points="455.8,385.5 465.8,380.5 465.8,399.0 455.8,404.0" fill="#d3d6da" stroke="#8d9196" stroke-width="0.35"/>
<polygon points="440.6,378.3 450.6,373.3 465.8,380.5 455.8,385.5" fill="#dfe2e5" stroke="#8d9196" stroke-width="0.35"/>
<path d="M450.0,378.8 L456.4,380.0" fill="none" stroke="#fff" stroke-width="1.0" stroke-dasharray="1.6 0.8"/>
<path d="M453.2,376.8 L453.2,382.2" fill="none" stroke="#fff" stroke-width="0.9" stroke-dasharray="1.4 0.8"/>
<path d="M450.6,373.3 L450.6,391.8" fill="none" stroke="#8d9196" stroke-width="0.3" stroke-dasharray="1.5 1"/>
</g>
<g opacity="0.9">
<polygon points="455.8,385.5 471.0,392.7 471.0,411.2 455.8,404.0" fill="#bfc4ca" stroke="#8d9196" stroke-width="0.35"/>
<polygon points="457.0,391.9 469.8,397.9 469.8,404.1 457.0,398.1" fill="#a9dcae" stroke="none" stroke-width="0" opacity="0.75"/>
<path d="M458.8,388.4 L458.8,404.4" fill="none" stroke="#d4d8dc" stroke-width="0.5"/>
<path d="M461.8,389.8 L461.8,405.8" fill="none" stroke="#d4d8dc" stroke-width="0.5"/>
<path d="M464.9,391.3 L464.9,407.3" fill="none" stroke="#d4d8dc" stroke-width="0.5"/>
<path d="M467.9,392.7 L467.9,408.7" fill="none" stroke="#d4d8dc" stroke-width="0.5"/>
<polygon points="471.0,392.7 481.0,387.7 481.0,406.2 471.0,411.2" fill="#d3d6da" stroke="#8d9196" stroke-width="0.35"/>
<polygon points="455.8,385.5 465.8,380.5 481.0,387.7 471.0,392.7" fill="#dfe2e5" stroke="#8d9196" stroke-width="0.35"/>
<path d="M465.2,386.0 L471.6,387.2" fill="none" stroke="#fff" stroke-width="1.0" stroke-dasharray="1.6 0.8"/>
<path d="M468.4,384.0 L468.4,389.4" fill="none" stroke="#fff" stroke-width="0.9" stroke-dasharray="1.4 0.8"/>
<path d="M465.8,380.5 L465.8,399.0" fill="none" stroke="#8d9196" stroke-width="0.3" stroke-dasharray="1.5 1"/>
</g>
<g opacity="0.9">
<polygon points="470.9,392.6 486.1,399.8 486.1,418.3 470.9,411.1" fill="#bfc4ca" stroke="#8d9196" stroke-width="0.35"/>
<polygon points="472.1,399.0 484.9,405.0 484.9,411.2 472.1,405.2" fill="#a9dcae" stroke="none" stroke-width="0" opacity="0.75"/>
<path d="M473.9,395.5 L473.9,411.5" fill="none" stroke="#d4d8dc" stroke-width="0.5"/>
<path d="M477.0,397.0 L477.0,413.0" fill="none" stroke="#d4d8dc" stroke-width="0.5"/>
<path d="M480.0,398.4 L480.0,414.4" fill="none" stroke="#d4d8dc" stroke-width="0.5"/>
<path d="M483.1,399.9 L483.1,415.9" fill="none" stroke="#d4d8dc" stroke-width="0.5"/>
<polygon points="486.1,399.8 496.1,394.8 496.1,413.3 486.1,418.3" fill="#d3d6da" stroke="#8d9196" stroke-width="0.35"/>
<polygon points="470.9,392.6 480.9,387.6 496.1,394.8 486.1,399.8" fill="#dfe2e5" stroke="#8d9196" stroke-width="0.35"/>
<path d="M480.3,393.1 L486.7,394.3" fill="none" stroke="#fff" stroke-width="1.0" stroke-dasharray="1.6 0.8"/>
<path d="M483.5,391.1 L483.5,396.5" fill="none" stroke="#fff" stroke-width="0.9" stroke-dasharray="1.4 0.8"/>
<path d="M480.9,387.6 L480.9,406.1" fill="none" stroke="#8d9196" stroke-width="0.3" stroke-dasharray="1.5 1"/>
</g>
<text x="446" y="401.6" font-size="5.8" text-anchor="end" textLength="29.5" lengthAdjust="spacingAndGlyphs" fill="#333">Large Router</text>
<text x="460" y="410" font-size="5.8" text-anchor="end" textLength="29.5" lengthAdjust="spacingAndGlyphs" fill="#333">Large Router</text>
<text x="474" y="417.6" font-size="5.8" text-anchor="end" textLength="29.5" lengthAdjust="spacingAndGlyphs" fill="#333">Large Router</text>
<polygon points="440.8,426.6 451.2,420.4 464.0,426.6 464.0,440.0 452.0,445.6 440.8,440.0" fill="#808284" stroke="#2c2c2c" stroke-width="0.4"/>
<polygon points="440.8,426.6 451.2,420.4 464.0,426.6 452.0,432.4" fill="#9c9ea0" stroke="#2c2c2c" stroke-width="0.4"/>
<polygon points="440.8,426.6 452.0,432.4 452.0,445.6 440.8,440.0" fill="#6e7072" stroke="#2c2c2c" stroke-width="0.4"/>
<path d="M447.0,429.8 L447.0,443.0" fill="none" stroke="#1e1e1e" stroke-width="0.9"/>
<path d="M444.0,428.2 L444.0,441.6" fill="none" stroke="#333" stroke-width="0.4"/>
<path d="M458.0,429.6 L458.0,442.8" fill="none" stroke="#333" stroke-width="0.4"/>
<path d="M451.2,420.4 L451.2,432.0" fill="none" stroke="#444" stroke-width="0.3"/>
<text x="442" y="447" font-size="5.8" text-anchor="end" textLength="31.5" lengthAdjust="spacingAndGlyphs" fill="#333">595 Expender</text>
<g opacity="0.9">
<polygon points="483.7,429.2 490.1,432.1 490.1,454.6 483.7,451.7" fill="url(#gLB)" stroke="#3a88c0" stroke-width="0.25"/>
<path d="M486.9,436.2 L486.9,452.0" fill="none" stroke="#8cc6ec" stroke-width="1.4" opacity="0.6"/>
<polygon points="490.1,432.1 500.3,427.3 500.3,449.8 490.1,454.6" fill="url(#gRB)" stroke="#3a88c0" stroke-width="0.25"/>
<polygon points="483.7,429.2 493.9,424.4 500.3,427.3 490.1,432.1" fill="#8ec6ea" stroke="#3a88c0" stroke-width="0.25"/>
<path d="M493.9,423.2 L493.9,430.4" fill="none" stroke="#3a88c0" stroke-width="0.25" opacity="0.7"/>
</g>
<g opacity="0.9">
<polygon points="491.4,433.2 497.8,436.1 497.8,458.6 491.4,455.7" fill="url(#gLB)" stroke="#3a88c0" stroke-width="0.25"/>
<path d="M494.6,440.2 L494.6,456.0" fill="none" stroke="#8cc6ec" stroke-width="1.4" opacity="0.6"/>
<polygon points="497.8,436.1 508.0,431.3 508.0,453.8 497.8,458.6" fill="url(#gRB)" stroke="#3a88c0" stroke-width="0.25"/>
<polygon points="491.4,433.2 501.6,428.4 508.0,431.3 497.8,436.1" fill="#8ec6ea" stroke="#3a88c0" stroke-width="0.25"/>
<path d="M501.6,427.2 L501.6,434.4" fill="none" stroke="#3a88c0" stroke-width="0.25" opacity="0.7"/>
</g>
<g opacity="0.9">
<polygon points="499.1,437.2 505.5,440.1 505.5,462.6 499.1,459.7" fill="url(#gLB)" stroke="#3a88c0" stroke-width="0.25"/>
<path d="M502.3,444.2 L502.3,460.0" fill="none" stroke="#8cc6ec" stroke-width="1.4" opacity="0.6"/>
<polygon points="505.5,440.1 515.7,435.3 515.7,457.8 505.5,462.6" fill="url(#gRB)" stroke="#3a88c0" stroke-width="0.25"/>
<polygon points="499.1,437.2 509.3,432.4 515.7,435.3 505.5,440.1" fill="#8ec6ea" stroke="#3a88c0" stroke-width="0.25"/>
<path d="M509.3,431.2 L509.3,438.4" fill="none" stroke="#3a88c0" stroke-width="0.25" opacity="0.7"/>
</g>
<g opacity="0.9">
<polygon points="506.8,441.2 513.2,444.1 513.2,466.6 506.8,463.7" fill="url(#gLB)" stroke="#3a88c0" stroke-width="0.25"/>
<path d="M510.0,448.2 L510.0,464.0" fill="none" stroke="#8cc6ec" stroke-width="1.4" opacity="0.6"/>
<polygon points="513.2,444.1 523.4,439.3 523.4,461.8 513.2,466.6" fill="url(#gRB)" stroke="#3a88c0" stroke-width="0.25"/>
<polygon points="506.8,441.2 517.0,436.4 523.4,439.3 513.2,444.1" fill="#8ec6ea" stroke="#3a88c0" stroke-width="0.25"/>
<path d="M517.0,435.2 L517.0,442.4" fill="none" stroke="#3a88c0" stroke-width="0.25" opacity="0.7"/>
</g>
<g opacity="0.9">
<polygon points="465.2,439.5 471.6,442.4 471.6,464.9 465.2,462.0" fill="url(#gLB)" stroke="#3a88c0" stroke-width="0.25"/>
<path d="M468.4,446.4 L468.4,462.2" fill="none" stroke="#8cc6ec" stroke-width="1.4" opacity="0.6"/>
<polygon points="471.6,442.4 481.8,437.6 481.8,460.1 471.6,464.9" fill="url(#gRB)" stroke="#3a88c0" stroke-width="0.25"/>
<polygon points="465.2,439.5 475.4,434.7 481.8,437.6 471.6,442.4" fill="#8ec6ea" stroke="#3a88c0" stroke-width="0.25"/>
<path d="M475.4,433.5 L475.4,440.7" fill="none" stroke="#3a88c0" stroke-width="0.25" opacity="0.7"/>
</g>
<g opacity="0.9">
<polygon points="472.9,443.5 479.3,446.4 479.3,468.9 472.9,466.0" fill="url(#gLB)" stroke="#3a88c0" stroke-width="0.25"/>
<path d="M476.1,450.4 L476.1,466.2" fill="none" stroke="#8cc6ec" stroke-width="1.4" opacity="0.6"/>
<polygon points="479.3,446.4 489.5,441.6 489.5,464.1 479.3,468.9" fill="url(#gRB)" stroke="#3a88c0" stroke-width="0.25"/>
<polygon points="472.9,443.5 483.1,438.7 489.5,441.6 479.3,446.4" fill="#8ec6ea" stroke="#3a88c0" stroke-width="0.25"/>
<path d="M483.1,437.5 L483.1,444.7" fill="none" stroke="#3a88c0" stroke-width="0.25" opacity="0.7"/>
</g>
<g opacity="0.9">
<polygon points="480.6,447.5 487.0,450.4 487.0,472.9 480.6,470.0" fill="url(#gLB)" stroke="#3a88c0" stroke-width="0.25"/>
<path d="M483.8,454.4 L483.8,470.2" fill="none" stroke="#8cc6ec" stroke-width="1.4" opacity="0.6"/>
<polygon points="487.0,450.4 497.2,445.6 497.2,468.1 487.0,472.9" fill="url(#gRB)" stroke="#3a88c0" stroke-width="0.25"/>
<polygon points="480.6,447.5 490.8,442.7 497.2,445.6 487.0,450.4" fill="#8ec6ea" stroke="#3a88c0" stroke-width="0.25"/>
<path d="M490.8,441.5 L490.8,448.7" fill="none" stroke="#3a88c0" stroke-width="0.25" opacity="0.7"/>
</g>
<g opacity="0.9">
<polygon points="488.3,451.5 494.7,454.4 494.7,476.9 488.3,474.0" fill="url(#gLB)" stroke="#3a88c0" stroke-width="0.25"/>
<path d="M491.5,458.4 L491.5,474.2" fill="none" stroke="#8cc6ec" stroke-width="1.4" opacity="0.6"/>
<polygon points="494.7,454.4 504.9,449.6 504.9,472.1 494.7,476.9" fill="url(#gRB)" stroke="#3a88c0" stroke-width="0.25"/>
<polygon points="488.3,451.5 498.5,446.7 504.9,449.6 494.7,454.4" fill="#8ec6ea" stroke="#3a88c0" stroke-width="0.25"/>
<path d="M498.5,445.5 L498.5,452.7" fill="none" stroke="#3a88c0" stroke-width="0.25" opacity="0.7"/>
</g>
<polygon points="137.8,290.6 527.0,290.6 505.6,345.4 117.6,345.4" fill="none" stroke="#c8c8c8" stroke-width="0.8"/>
<path d="M143.6,290.6 L143.6,307.6 L157.0,307.6" fill="none" stroke="#c6deee" stroke-width="0.7"/>
<path d="M186.0,290.6 L186.0,304.4 L226.6,304.4 L226.6,319.0" fill="none" stroke="#c6deee" stroke-width="0.7"/>
<path d="M404.4,283.6 L404.4,296.0" fill="none" stroke="#c6deee" stroke-width="0.7"/>
<path d="M415.6,283.6 L415.6,296.0" fill="none" stroke="#c6deee" stroke-width="0.7"/>
<path d="M423.6,283.6 L423.6,296.0" fill="none" stroke="#c6deee" stroke-width="0.7"/>
<text x="140" y="297" font-size="5.4" textLength="30" lengthAdjust="spacingAndGlyphs" fill="#333">Infrastructure</text>
<text x="140" y="303.4" font-size="7.2" textLength="29" lengthAdjust="spacingAndGlyphs" fill="#333">基础设施</text>
<text x="151.4" y="310" font-size="5.4" text-anchor="middle" textLength="6.4" lengthAdjust="spacingAndGlyphs" fill="#333">AS</text>
<ellipse cx="159.4" cy="308" rx="3" ry="1.6" fill="#b9dbf2" stroke="#63a6da" stroke-width="0.5"/>
<path d="M162.4,308.0 L170.0,308.0" fill="none" stroke="#c6deee" stroke-width="0.6"/>
<text x="151.4" y="316" font-size="5.4" text-anchor="middle" textLength="6.4" lengthAdjust="spacingAndGlyphs" fill="#333">AS</text>
<ellipse cx="159.4" cy="314" rx="3" ry="1.6" fill="#b9dbf2" stroke="#63a6da" stroke-width="0.5"/>
<path d="M162.4,314.0 L170.0,314.0" fill="none" stroke="#c6deee" stroke-width="0.6"/>
<text x="151.4" y="321.6" font-size="5.4" text-anchor="middle" textLength="6.4" lengthAdjust="spacingAndGlyphs" fill="#333">AS</text>
<ellipse cx="159.4" cy="319.6" rx="3" ry="1.6" fill="#b9dbf2" stroke="#63a6da" stroke-width="0.5"/>
<path d="M162.4,319.6 L170.0,319.6" fill="none" stroke="#c6deee" stroke-width="0.6"/>
<polygon points="170.0,309.6 173.4,308.4 177.2,309.8 177.2,317.4 173.8,318.4 170.0,317.0" fill="#2f86cf" stroke="#1d6cb0" stroke-width="0.5"/>
<polygon points="170.0,309.6 173.4,308.4 177.2,309.8 173.8,311.0" fill="#7fbdeb" stroke="none" stroke-width="0"/>
<path d="M171.2,312.6 L173.0,313.8 L171.2,315.0" fill="none" stroke="#d9ecfa" stroke-width="0.6"/>
<text x="173.4" y="322.6" font-size="5" text-anchor="middle" textLength="6" lengthAdjust="spacingAndGlyphs" fill="#333">DS</text>
<path d="M177.4,314.0 L195.0,314.0" fill="none" stroke="#c2c2c2" stroke-width="0.7"/>
<path d="M199.0,318.6 L199.0,321.0 L217.6,321.0 L217.6,316.0 L226.0,316.0" fill="none" stroke="#c2c2c2" stroke-width="0.7"/>
<path d="M221,325.6 q-1.6,-2.6 1.4,-3.2 q0.6,-3 3.4,-3 q2.8,0 3.4,3 q3,0.6 1.4,3.2 z" fill="#fff" stroke="#bdbdbd" stroke-width="0.7"/>
<path d="M224.4,325.6 L224.4,331.0 L247.0,331.0" fill="none" stroke="#c2c2c2" stroke-width="0.7"/>
<path d="M255.0,331.4 L270.5,331.4" fill="none" stroke="#c2c2c2" stroke-width="0.7"/>
<text x="251.6" y="312" font-size="5.8" text-anchor="middle" textLength="27" lengthAdjust="spacingAndGlyphs" fill="#333">Networking</text>
<polygon points="195.0,310.2 197.6,309.4 203.0,311.6 203.0,318.8 200.4,319.4 195.0,316.8" fill="#eaa97e" stroke="none" stroke-width="0"/>
<polygon points="200.4,312.2 203.0,311.6 203.0,318.8 200.4,319.4" fill="#f3cdb0" stroke="none" stroke-width="0"/>
<path d="M195.0,313.4 L200.4,315.7" fill="none" stroke="#f3cdb0" stroke-width="0.5"/>
<path d="M197.6,311.6 L197.6,314.5" fill="none" stroke="#f3cdb0" stroke-width="0.5"/>
<polygon points="247.0,327.2 249.6,326.4 255.0,328.6 255.0,335.8 252.4,336.4 247.0,333.8" fill="#eaa97e" stroke="none" stroke-width="0"/>
<polygon points="252.4,329.2 255.0,328.6 255.0,335.8 252.4,336.4" fill="#f3cdb0" stroke="none" stroke-width="0"/>
<path d="M247.0,330.4 L252.4,332.7" fill="none" stroke="#f3cdb0" stroke-width="0.5"/>
<path d="M249.6,328.6 L249.6,331.5" fill="none" stroke="#f3cdb0" stroke-width="0.5"/>
<polygon points="304.0,308.0 306.6,307.2 312.0,309.4 312.0,316.6 309.4,317.2 304.0,314.6" fill="#eaa97e" stroke="none" stroke-width="0"/>
<polygon points="309.4,310.0 312.0,309.4 312.0,316.6 309.4,317.2" fill="#f3cdb0" stroke="none" stroke-width="0"/>
<path d="M304.0,311.2 L309.4,313.5" fill="none" stroke="#f3cdb0" stroke-width="0.5"/>
<path d="M306.6,309.4 L306.6,312.3" fill="none" stroke="#f3cdb0" stroke-width="0.5"/>
<polygon points="376.6,327.6 379.2,326.8 384.6,329.0 384.6,336.2 382.0,336.8 376.6,334.2" fill="#eaa97e" stroke="none" stroke-width="0"/>
<polygon points="382.0,329.6 384.6,329.0 384.6,336.2 382.0,336.8" fill="#f3cdb0" stroke="none" stroke-width="0"/>
<path d="M376.6,330.8 L382.0,333.1" fill="none" stroke="#f3cdb0" stroke-width="0.5"/>
<path d="M379.2,329.0 L379.2,331.9" fill="none" stroke="#f3cdb0" stroke-width="0.5"/>
<rect x="270.5" y="320.5" width="11" height="23" fill="none" stroke="#e3bfb0" stroke-width="0.5" stroke-dasharray="1 0.8"/>
<polygon points="272.7,323.2 276.1,322.0 279.9,323.4 279.9,331.0 276.5,332.0 272.7,330.6" fill="#2f86cf" stroke="#1d6cb0" stroke-width="0.5"/>
<polygon points="272.7,323.2 276.1,322.0 279.9,323.4 276.5,324.6" fill="#7fbdeb" stroke="none" stroke-width="0"/>
<path d="M273.9,326.2 L275.7,327.4 L273.9,328.6" fill="none" stroke="#d9ecfa" stroke-width="0.6"/>
<polygon points="272.7,333.8 276.1,332.6 279.9,334.0 279.9,341.6 276.5,342.6 272.7,341.2" fill="#2f86cf" stroke="#1d6cb0" stroke-width="0.5"/>
<polygon points="272.7,333.8 276.1,332.6 279.9,334.0 276.5,335.2" fill="#7fbdeb" stroke="none" stroke-width="0"/>
<path d="M273.9,336.8 L275.7,338.0 L273.9,339.2" fill="none" stroke="#d9ecfa" stroke-width="0.6"/>
<text x="287.2" y="328.8" font-size="4.8" text-anchor="middle" textLength="11.5" lengthAdjust="spacingAndGlyphs" fill="#333">CORE</text>
<text x="287.2" y="339.6" font-size="4.8" text-anchor="middle" textLength="11.5" lengthAdjust="spacingAndGlyphs" fill="#333">CORE</text>
<path d="M281.6,321.5 L296.0,321.5 L296.0,312.3 L304.0,312.3" fill="none" stroke="#c2c2c2" stroke-width="0.7"/>
<path d="M312.0,312.3 L324.5,312.3" fill="none" stroke="#c2c2c2" stroke-width="0.7"/>
<path d="M281.6,332.4 L376.6,332.4" fill="none" stroke="#c2c2c2" stroke-width="0.7"/>
<path d="M384.6,332.4 L400.0,332.4" fill="none" stroke="#c2c2c2" stroke-width="0.7"/>
<rect x="324.6" y="300" width="11.2" height="24" fill="none" stroke="#e3bfb0" stroke-width="0.5" stroke-dasharray="1 0.8"/>
<polygon points="326.4,301.8 329.8,300.6 333.6,302.0 333.6,309.6 330.2,310.6 326.4,309.2" fill="#2f86cf" stroke="#1d6cb0" stroke-width="0.5"/>
<polygon points="326.4,301.8 329.8,300.6 333.6,302.0 330.2,303.2" fill="#7fbdeb" stroke="none" stroke-width="0"/>
<path d="M327.6,304.8 L329.4,306.0 L327.6,307.2" fill="none" stroke="#d9ecfa" stroke-width="0.6"/>
<polygon points="326.4,312.8 329.8,311.6 333.6,313.0 333.6,320.6 330.2,321.6 326.4,320.2" fill="#2f86cf" stroke="#1d6cb0" stroke-width="0.5"/>
<polygon points="326.4,312.8 329.8,311.6 333.6,313.0 330.2,314.2" fill="#7fbdeb" stroke="none" stroke-width="0"/>
<path d="M327.6,315.8 L329.4,317.0 L327.6,318.2" fill="none" stroke="#d9ecfa" stroke-width="0.6"/>
<text x="338.6" y="308.8" font-size="5" text-anchor="middle" textLength="6" lengthAdjust="spacingAndGlyphs" fill="#333">DS</text>
<ellipse cx="346" cy="307" rx="3" ry="1.6" fill="#b9dbf2" stroke="#63a6da" stroke-width="0.5"/>
<text x="352.6" y="308.9" font-size="5.4" text-anchor="middle" textLength="6.4" lengthAdjust="spacingAndGlyphs" fill="#333">AS</text>
<ellipse cx="346" cy="312.6" rx="3" ry="1.6" fill="#b9dbf2" stroke="#63a6da" stroke-width="0.5"/>
<text x="352.6" y="314.5" font-size="5.4" text-anchor="middle" textLength="6.4" lengthAdjust="spacingAndGlyphs" fill="#333">AS</text>
<text x="338.6" y="320.2" font-size="5" text-anchor="middle" textLength="6" lengthAdjust="spacingAndGlyphs" fill="#333">DS</text>
<ellipse cx="346" cy="318.4" rx="3" ry="1.6" fill="#b9dbf2" stroke="#63a6da" stroke-width="0.5"/>
<text x="352.6" y="320.29999999999995" font-size="5.4" text-anchor="middle" textLength="6.4" lengthAdjust="spacingAndGlyphs" fill="#333">AS</text>
<path d="M356.0,312.6 L390.0,312.6" fill="none" stroke="#c2c2c2" stroke-width="0.7"/>
<polygon points="395.0,299.0 437.6,299.0 429.0,318.6 387.0,318.6" fill="none" stroke="#cfcfcf" stroke-width="0.7"/>
<g>
<polygon points="398.0,297.0 412.0,291.0 428.0,296.0 428.0,308.0 414.0,313.0 398.0,308.4" fill="#e2e3e4" stroke="#b9bcbe" stroke-width="0.5"/>
<polygon points="398.0,297.0 412.0,291.0 428.0,296.0 414.0,301.6" fill="#f1f1f2" stroke="#c0c3c5" stroke-width="0.4"/>
<path d="M403.3,298.5 L403.3,309.9" fill="none" stroke="#b6b9bb" stroke-width="0.4"/>
<path d="M403.3,298.5 L417.3,292.5" fill="none" stroke="#c6c8ca" stroke-width="0.4"/>
<path d="M408.6,300.0 L408.6,311.4" fill="none" stroke="#b6b9bb" stroke-width="0.4"/>
<path d="M408.6,300.0 L422.6,294.0" fill="none" stroke="#c6c8ca" stroke-width="0.4"/>
<path d="M398.0,302.6 L414.0,307.2 L428.0,302.0" fill="none" stroke="#b6b9bb" stroke-width="0.4"/>
<path d="M414.0,301.6 L414.0,313.0" fill="none" stroke="#b3b6b8" stroke-width="0.4"/>
<path d="M418.6,299.8 L418.6,311.4" fill="none" stroke="#b6b9bb" stroke-width="0.4"/>
<path d="M423.2,297.9 L423.2,309.5" fill="none" stroke="#b6b9bb" stroke-width="0.4"/>
</g>
<text x="405" y="316.2" font-size="5.8" text-anchor="middle" textLength="26" lengthAdjust="spacingAndGlyphs" fill="#333">Computing</text>
<rect x="401" y="321.6" width="10.8" height="22.6" fill="none" stroke="#e3bfb0" stroke-width="0.5" stroke-dasharray="1 0.8"/>
<polygon points="402.4,323.4 405.8,322.2 409.6,323.6 409.6,331.2 406.2,332.2 402.4,330.8" fill="#2f86cf" stroke="#1d6cb0" stroke-width="0.5"/>
<polygon points="402.4,323.4 405.8,322.2 409.6,323.6 406.2,324.8" fill="#7fbdeb" stroke="none" stroke-width="0"/>
<path d="M403.6,326.4 L405.4,327.6 L403.6,328.8" fill="none" stroke="#d9ecfa" stroke-width="0.6"/>
<polygon points="402.4,334.5 405.8,333.3 409.6,334.7 409.6,342.3 406.2,343.3 402.4,341.9" fill="#2f86cf" stroke="#1d6cb0" stroke-width="0.5"/>
<polygon points="402.4,334.5 405.8,333.3 409.6,334.7 406.2,335.9" fill="#7fbdeb" stroke="none" stroke-width="0"/>
<path d="M403.6,337.5 L405.4,338.7 L403.6,339.9" fill="none" stroke="#d9ecfa" stroke-width="0.6"/>
<text x="414.4" y="330.2" font-size="5" text-anchor="middle" textLength="6" lengthAdjust="spacingAndGlyphs" fill="#333">DS</text>
<ellipse cx="422" cy="328.4" rx="3" ry="1.6" fill="#b9dbf2" stroke="#63a6da" stroke-width="0.5"/>
<text x="430" y="330.29999999999995" font-size="5.4" text-anchor="middle" textLength="6.4" lengthAdjust="spacingAndGlyphs" fill="#333">AS</text>
<ellipse cx="422" cy="334" rx="3" ry="1.6" fill="#b9dbf2" stroke="#63a6da" stroke-width="0.5"/>
<text x="430" y="335.9" font-size="5.4" text-anchor="middle" textLength="6.4" lengthAdjust="spacingAndGlyphs" fill="#333">AS</text>
<text x="414.4" y="341.40000000000003" font-size="5" text-anchor="middle" textLength="6" lengthAdjust="spacingAndGlyphs" fill="#333">DS</text>
<ellipse cx="422" cy="339.6" rx="3" ry="1.6" fill="#b9dbf2" stroke="#63a6da" stroke-width="0.5"/>
<text x="430" y="341.5" font-size="5.4" text-anchor="middle" textLength="6.4" lengthAdjust="spacingAndGlyphs" fill="#333">AS</text>
<path d="M425.0,334.0 L463.0,334.0" fill="none" stroke="#9a9a9a" stroke-width="0.7"/>
<polygon points="469.6,320.6 510.4,320.6 502.0,339.0 460.6,339.0" fill="none" stroke="#d6d6d6" stroke-width="0.7"/>
<ellipse cx="480" cy="325.59999999999997" rx="4.2" ry="2" fill="#6fb3e3"/>
<ellipse cx="480" cy="324.4" rx="4.2" ry="2" fill="#a9d4f2" stroke="#74b4e2" stroke-width="0.4"/>
<ellipse cx="488" cy="325.59999999999997" rx="4.2" ry="2" fill="#6fb3e3"/>
<ellipse cx="488" cy="324.4" rx="4.2" ry="2" fill="#a9d4f2" stroke="#74b4e2" stroke-width="0.4"/>
<ellipse cx="496" cy="325.59999999999997" rx="4.2" ry="2" fill="#6fb3e3"/>
<ellipse cx="496" cy="324.4" rx="4.2" ry="2" fill="#a9d4f2" stroke="#74b4e2" stroke-width="0.4"/>
<ellipse cx="484" cy="328.8" rx="4.2" ry="2" fill="#6fb3e3"/>
<ellipse cx="484" cy="327.6" rx="4.2" ry="2" fill="#a9d4f2" stroke="#74b4e2" stroke-width="0.4"/>
<ellipse cx="492" cy="328.8" rx="4.2" ry="2" fill="#6fb3e3"/>
<ellipse cx="492" cy="327.6" rx="4.2" ry="2" fill="#a9d4f2" stroke="#74b4e2" stroke-width="0.4"/>
<text x="475" y="336.6" font-size="5.8" text-anchor="middle" textLength="18" lengthAdjust="spacingAndGlyphs" fill="#333">Storage</text>
<path d="M125.2,275.6 L124.0,278.6 L514.6,278.6 L532.4,234.4 L529.4,234.4" fill="none" stroke="#cdcdcd" stroke-width="0.7"/>
<path d="M122.2,272.6 L121.0,275.6 L511.6,275.6 L529.4,231.4 L526.4,231.4" fill="none" stroke="#cdcdcd" stroke-width="0.7"/>
<polygon points="135.2,228.4 526.4,228.4 508.6,272.6 118.0,272.6" fill="none" stroke="#cdcdcd" stroke-width="0.7"/>
<text x="138" y="235.2" font-size="5.4" textLength="52" lengthAdjust="spacingAndGlyphs" fill="#333">Technical Architecture</text>
<text x="138" y="242.0" font-size="7.2" textLength="29" lengthAdjust="spacingAndGlyphs" fill="#333">部署架构</text>
<path d="M147.0,251.8 L175.0,251.8" fill="none" stroke="#bdbdbd" stroke-width="0.8"/>
<path d="M199.0,251.8 L220.0,251.8" fill="none" stroke="#bdbdbd" stroke-width="0.8"/>
<path d="M228.0,251.8 L377.0,251.8" fill="none" stroke="#bdbdbd" stroke-width="0.8"/>
<path d="M385.0,251.8 L520.0,251.8" fill="none" stroke="#bdbdbd" stroke-width="0.8"/>
<polygon points="139.4,246.0 142.0,244.6 144.4,246.0 144.4,253.0 139.4,253.0" fill="#cfe2f1" stroke="#9ab9d2" stroke-width="0.5"/>
<polygon points="142.6,247.6 146.0,246.2 148.6,248.0 148.6,255.0 142.6,255.0" fill="#d9e8f4" stroke="#9ab9d2" stroke-width="0.5"/>
<text x="143.2" y="260.4" font-size="5.4" text-anchor="middle" textLength="16" lengthAdjust="spacingAndGlyphs" fill="#333">Clients</text>
<path d="M178.6,256.8 q-3.6,-0.4 -3.4,-3.6 q0.2,-2.8 3.4,-3 q0.6,-3.6 4.6,-4 q3.4,-0.4 5,2 q2.4,-2 5.4,-0.6 q2.6,1.4 2.4,4.2 q3,0.6 2.8,3 q-0.4,2.4 -3.2,2.2 z" fill="#fff" stroke="#c9c9c9" stroke-width="0.7"/>
<text x="187" y="253.8" font-size="5.6" text-anchor="middle" textLength="12.5" lengthAdjust="spacingAndGlyphs" fill="#333">WAN</text>
<polygon points="220.0,246.8 222.6,246.0 228.0,248.2 228.0,255.4 225.4,256.0 220.0,253.4" fill="#eaa97e" stroke="none" stroke-width="0"/>
<polygon points="225.4,248.8 228.0,248.2 228.0,255.4 225.4,256.0" fill="#f3cdb0" stroke="none" stroke-width="0"/>
<path d="M220.0,250.0 L225.4,252.3" fill="none" stroke="#f3cdb0" stroke-width="0.5"/>
<path d="M222.6,248.2 L222.6,251.1" fill="none" stroke="#f3cdb0" stroke-width="0.5"/>
<polygon points="377.0,246.6 379.6,245.8 385.0,248.0 385.0,255.2 382.4,255.8 377.0,253.2" fill="#eaa97e" stroke="none" stroke-width="0"/>
<polygon points="382.4,248.6 385.0,248.0 385.0,255.2 382.4,255.8" fill="#f3cdb0" stroke="none" stroke-width="0"/>
<path d="M377.0,249.8 L382.4,252.1" fill="none" stroke="#f3cdb0" stroke-width="0.5"/>
<path d="M379.6,248.0 L379.6,250.9" fill="none" stroke="#f3cdb0" stroke-width="0.5"/>
<polygon points="258.0,240.4 263.0,238.0 269.0,240.0 269.0,245.0 264.0,247.2 258.0,245.2" fill="#dcdfe1" stroke="#b9bdc0" stroke-width="0.5"/>
<polygon points="258.0,240.4 263.0,238.0 269.0,240.0 264.0,242.4" fill="#f0f1f2" stroke="#c3c6c8" stroke-width="0.4"/>
<path d="M258.0,243.0 L264.0,245.0 L269.0,242.6" fill="none" stroke="#b4b8bb" stroke-width="0.4"/>
<circle cx="267.2" cy="245.79999999999998" r="2.3" fill="#3fa58c" fill-opacity="0.85" stroke="#e8f3fa" stroke-width="0.6"/>
<path d="M265.6,245.79999999999998 h3.2 M267.2,244.2 v3.2" stroke="#d4ebf9" stroke-width="0.4" fill="none"/>
<polygon points="276.4,240.4 281.4,238.0 287.4,240.0 287.4,245.0 282.4,247.2 276.4,245.2" fill="#dcdfe1" stroke="#b9bdc0" stroke-width="0.5"/>
<polygon points="276.4,240.4 281.4,238.0 287.4,240.0 282.4,242.4" fill="#f0f1f2" stroke="#c3c6c8" stroke-width="0.4"/>
<path d="M276.4,243.0 L282.4,245.0 L287.4,242.6" fill="none" stroke="#b4b8bb" stroke-width="0.4"/>
<circle cx="285.59999999999997" cy="245.79999999999998" r="2.3" fill="#3fa58c" fill-opacity="0.85" stroke="#e8f3fa" stroke-width="0.6"/>
<path d="M284.0,245.79999999999998 h3.2 M285.59999999999997,244.2 v3.2" stroke="#d4ebf9" stroke-width="0.4" fill="none"/>
<path d="M262.0,247.0 L259.6,251.6" fill="none" stroke="#bdbdbd" stroke-width="0.6"/>
<path d="M280.4,247.0 L278.0,251.6" fill="none" stroke="#bdbdbd" stroke-width="0.6"/>
<text x="298.2" y="254" font-size="5.6" text-anchor="middle" textLength="10" lengthAdjust="spacingAndGlyphs" fill="#333">LAN</text>
<polygon points="323.0,235.0 358.0,235.0 339.0,268.6 304.4,268.6" fill="none" stroke="#c2c2c2" stroke-width="0.7"/>
<polygon points="320.4,239.4 325.4,237.0 331.4,239.0 331.4,244.0 326.4,246.2 320.4,244.2" fill="#dcdfe1" stroke="#b9bdc0" stroke-width="0.5"/>
<polygon points="320.4,239.4 325.4,237.0 331.4,239.0 326.4,241.4" fill="#f0f1f2" stroke="#c3c6c8" stroke-width="0.4"/>
<path d="M320.4,242.0 L326.4,244.0 L331.4,241.6" fill="none" stroke="#b4b8bb" stroke-width="0.4"/>
<circle cx="329.59999999999997" cy="244.79999999999998" r="2.3" fill="#62b0e4" fill-opacity="0.85" stroke="#e8f3fa" stroke-width="0.6"/>
<path d="M328.0,244.79999999999998 h3.2 M329.59999999999997,243.2 v3.2" stroke="#d4ebf9" stroke-width="0.4" fill="none"/>
<polygon points="338.0,239.4 343.0,237.0 349.0,239.0 349.0,244.0 344.0,246.2 338.0,244.2" fill="#dcdfe1" stroke="#b9bdc0" stroke-width="0.5"/>
<polygon points="338.0,239.4 343.0,237.0 349.0,239.0 344.0,241.4" fill="#f0f1f2" stroke="#c3c6c8" stroke-width="0.4"/>
<path d="M338.0,242.0 L344.0,244.0 L349.0,241.6" fill="none" stroke="#b4b8bb" stroke-width="0.4"/>
<circle cx="347.2" cy="244.79999999999998" r="2.3" fill="#62b0e4" fill-opacity="0.85" stroke="#e8f3fa" stroke-width="0.6"/>
<path d="M345.6,244.79999999999998 h3.2 M347.2,243.2 v3.2" stroke="#d4ebf9" stroke-width="0.4" fill="none"/>
<polygon points="312.4,257.2 317.4,254.8 323.4,256.8 323.4,261.8 318.4,264.0 312.4,262.0" fill="#dcdfe1" stroke="#b9bdc0" stroke-width="0.5"/>
<polygon points="312.4,257.2 317.4,254.8 323.4,256.8 318.4,259.2" fill="#f0f1f2" stroke="#c3c6c8" stroke-width="0.4"/>
<path d="M312.4,259.8 L318.4,261.8 L323.4,259.4" fill="none" stroke="#b4b8bb" stroke-width="0.4"/>
<circle cx="321.59999999999997" cy="262.59999999999997" r="2.3" fill="#62b0e4" fill-opacity="0.85" stroke="#e8f3fa" stroke-width="0.6"/>
<path d="M320.0,262.59999999999997 h3.2 M321.59999999999997,261.0 v3.2" stroke="#d4ebf9" stroke-width="0.4" fill="none"/>
<polygon points="331.4,257.2 336.4,254.8 342.4,256.8 342.4,261.8 337.4,264.0 331.4,262.0" fill="#dcdfe1" stroke="#b9bdc0" stroke-width="0.5"/>
<polygon points="331.4,257.2 336.4,254.8 342.4,256.8 337.4,259.2" fill="#f0f1f2" stroke="#c3c6c8" stroke-width="0.4"/>
<path d="M331.4,259.8 L337.4,261.8 L342.4,259.4" fill="none" stroke="#b4b8bb" stroke-width="0.4"/>
<circle cx="340.59999999999997" cy="262.59999999999997" r="2.3" fill="#62b0e4" fill-opacity="0.85" stroke="#e8f3fa" stroke-width="0.6"/>
<path d="M339.0,262.59999999999997 h3.2 M340.59999999999997,261.0 v3.2" stroke="#d4ebf9" stroke-width="0.4" fill="none"/>
<text x="336" y="244.2" font-size="5.8" text-anchor="middle" textLength="27" lengthAdjust="spacingAndGlyphs" fill="#222">Web Server</text>
<text x="327.6" y="263.2" font-size="5.8" text-anchor="middle" textLength="27" lengthAdjust="spacingAndGlyphs" fill="#222">Web Server</text>
<polygon points="398.0,253.4 442.0,253.4 436.0,268.6 392.0,268.6" fill="none" stroke="#c2c2c2" stroke-width="0.7"/>
<polygon points="397.0,256.8 402.0,254.4 408.0,256.4 408.0,261.4 403.0,263.6 397.0,261.6" fill="#dcdfe1" stroke="#b9bdc0" stroke-width="0.5"/>
<polygon points="397.0,256.8 402.0,254.4 408.0,256.4 403.0,258.8" fill="#f0f1f2" stroke="#c3c6c8" stroke-width="0.4"/>
<path d="M397.0,259.4 L403.0,261.4 L408.0,259.0" fill="none" stroke="#b4b8bb" stroke-width="0.4"/>
<circle cx="406.2" cy="262.2" r="2.3" fill="#62b0e4" fill-opacity="0.85" stroke="#e8f3fa" stroke-width="0.6"/>
<path d="M404.6,262.2 h3.2 M406.2,260.6 v3.2" stroke="#d4ebf9" stroke-width="0.4" fill="none"/>
<polygon points="418.0,256.8 423.0,254.4 429.0,256.4 429.0,261.4 424.0,263.6 418.0,261.6" fill="#dcdfe1" stroke="#b9bdc0" stroke-width="0.5"/>
<polygon points="418.0,256.8 423.0,254.4 429.0,256.4 424.0,258.8" fill="#f0f1f2" stroke="#c3c6c8" stroke-width="0.4"/>
<path d="M418.0,259.4 L424.0,261.4 L429.0,259.0" fill="none" stroke="#b4b8bb" stroke-width="0.4"/>
<circle cx="427.2" cy="262.2" r="2.3" fill="#62b0e4" fill-opacity="0.85" stroke="#e8f3fa" stroke-width="0.6"/>
<path d="M425.6,262.2 h3.2 M427.2,260.6 v3.2" stroke="#d4ebf9" stroke-width="0.4" fill="none"/>
<text x="414" y="263.2" font-size="5.8" text-anchor="middle" textLength="43" lengthAdjust="spacingAndGlyphs" fill="#222">Application Server</text>
<polygon points="442.4,235.0 517.0,235.0 511.0,248.2 436.0,248.2" fill="none" stroke="#c2c2c2" stroke-width="0.7"/>
<polygon points="443.6,239.2 448.6,236.8 454.6,238.8 454.6,243.8 449.6,246.0 443.6,244.0" fill="#dcdfe1" stroke="#b9bdc0" stroke-width="0.5"/>
<polygon points="443.6,239.2 448.6,236.8 454.6,238.8 449.6,241.2" fill="#f0f1f2" stroke="#c3c6c8" stroke-width="0.4"/>
<path d="M443.6,241.8 L449.6,243.8 L454.6,241.4" fill="none" stroke="#b4b8bb" stroke-width="0.4"/>
<circle cx="452.8" cy="244.6" r="2.3" fill="#62b0e4" fill-opacity="0.85" stroke="#e8f3fa" stroke-width="0.6"/>
<path d="M451.20000000000005,244.6 h3.2 M452.8,243.0 v3.2" stroke="#d4ebf9" stroke-width="0.4" fill="none"/>
<polygon points="461.4,239.2 466.4,236.8 472.4,238.8 472.4,243.8 467.4,246.0 461.4,244.0" fill="#dcdfe1" stroke="#b9bdc0" stroke-width="0.5"/>
<polygon points="461.4,239.2 466.4,236.8 472.4,238.8 467.4,241.2" fill="#f0f1f2" stroke="#c3c6c8" stroke-width="0.4"/>
<path d="M461.4,241.8 L467.4,243.8 L472.4,241.4" fill="none" stroke="#b4b8bb" stroke-width="0.4"/>
<circle cx="470.59999999999997" cy="244.6" r="2.3" fill="#62b0e4" fill-opacity="0.85" stroke="#e8f3fa" stroke-width="0.6"/>
<path d="M469.0,244.6 h3.2 M470.59999999999997,243.0 v3.2" stroke="#d4ebf9" stroke-width="0.4" fill="none"/>
<polygon points="479.6,239.2 484.6,236.8 490.6,238.8 490.6,243.8 485.6,246.0 479.6,244.0" fill="#dcdfe1" stroke="#b9bdc0" stroke-width="0.5"/>
<polygon points="479.6,239.2 484.6,236.8 490.6,238.8 485.6,241.2" fill="#f0f1f2" stroke="#c3c6c8" stroke-width="0.4"/>
<path d="M479.6,241.8 L485.6,243.8 L490.6,241.4" fill="none" stroke="#b4b8bb" stroke-width="0.4"/>
<circle cx="488.8" cy="244.6" r="2.3" fill="#62b0e4" fill-opacity="0.85" stroke="#e8f3fa" stroke-width="0.6"/>
<path d="M487.20000000000005,244.6 h3.2 M488.8,243.0 v3.2" stroke="#d4ebf9" stroke-width="0.4" fill="none"/>
<polygon points="497.4,239.2 502.4,236.8 508.4,238.8 508.4,243.8 503.4,246.0 497.4,244.0" fill="#dcdfe1" stroke="#b9bdc0" stroke-width="0.5"/>
<polygon points="497.4,239.2 502.4,236.8 508.4,238.8 503.4,241.2" fill="#f0f1f2" stroke="#c3c6c8" stroke-width="0.4"/>
<path d="M497.4,241.8 L503.4,243.8 L508.4,241.4" fill="none" stroke="#b4b8bb" stroke-width="0.4"/>
<circle cx="506.59999999999997" cy="244.6" r="2.3" fill="#62b0e4" fill-opacity="0.85" stroke="#e8f3fa" stroke-width="0.6"/>
<path d="M505.0,244.6 h3.2 M506.59999999999997,243.0 v3.2" stroke="#d4ebf9" stroke-width="0.4" fill="none"/>
<text x="477" y="243.6" font-size="5.8" text-anchor="middle" textLength="37" lengthAdjust="spacingAndGlyphs" fill="#222">Database Server</text>
<path d="M143.6,262.0 L143.6,307.6 L157.0,307.6" fill="none" stroke="#c6deee" stroke-width="0.7"/>
<polygon points="143.6,261.0 142.5,263.0 144.7,263.0" fill="#c6deee" stroke="none" stroke-width="0"/>
<path d="M186.0,259.6 L186.0,304.4 L226.6,304.4 L226.6,319.0" fill="none" stroke="#c6deee" stroke-width="0.7"/>
<polygon points="186.0,258.4 184.9,260.4 187.1,260.4" fill="#c6deee" stroke="none" stroke-width="0"/>
<path d="M324.0,270.6 L324.0,283.6 L474.0,283.6 L474.0,250.6" fill="none" stroke="#c6deee" stroke-width="0.7"/>
<polygon points="324.0,269.4 322.9,271.4 325.1,271.4" fill="#c6deee" stroke="none" stroke-width="0"/>
<polygon points="474.0,249.4 472.9,251.4 475.1,251.4" fill="#c6deee" stroke="none" stroke-width="0"/>
<path d="M412.0,270.6 L412.0,283.6" fill="none" stroke="#c6deee" stroke-width="0.7"/>
<polygon points="412.0,269.4 410.9,271.4 413.1,271.4" fill="#c6deee" stroke="none" stroke-width="0"/>
<polygon points="134.6,171.0 531.0,171.0 513.0,220.0 117.8,220.0" fill="none" stroke="#c8c8c8" stroke-width="0.8"/>
<text x="137" y="178.4" font-size="5.4" textLength="56" lengthAdjust="spacingAndGlyphs" fill="#333">Application Architecture</text>
<text x="137" y="185.2" font-size="7.2" textLength="29" lengthAdjust="spacingAndGlyphs" fill="#333">应用架构</text>
<path d="M146.5,193.0 L183.5,193.0" fill="none" stroke="#c4c4c4" stroke-width="0.8"/>
<polygon points="185.6,193.0 183.4,191.7 183.4,194.3" fill="#b0b0b0" stroke="none" stroke-width="0"/>
<path d="M197.0,193.0 L211.5,193.0" fill="none" stroke="#c4c4c4" stroke-width="0.8"/>
<polygon points="213.6,193.0 211.4,191.7 211.4,194.3" fill="#b0b0b0" stroke="none" stroke-width="0"/>
<path d="M139.5,207.0 L160.5,207.0" fill="none" stroke="#c4c4c4" stroke-width="0.8"/>
<polygon points="162.6,207.0 160.4,205.7 160.4,208.3" fill="#b0b0b0" stroke="none" stroke-width="0"/>
<path d="M174.5,207.0 L216.8,207.0 L216.8,199.6" fill="none" stroke="#c4c4c4" stroke-width="0.8"/>
<polygon points="216.8,198.4 215.7,200.4 217.9,200.4" fill="#b0b0b0" stroke="none" stroke-width="0"/>
<path d="M190.3,198.0 L190.3,202.5 L215.4,202.5 L215.4,199.6" fill="none" stroke="#c4c4c4" stroke-width="0.8"/>
<path d="M221.4,198.0 L221.4,201.5 L234.0,201.5 L235.6,200.0 L235.6,194.5 L263.0,194.5 L263.0,191.0 L275.0,191.0" fill="none" stroke="#c4c4c4" stroke-width="0.8"/>
<path d="M235.6,201.5 L243.6,201.5" fill="none" stroke="#c4c4c4" stroke-width="0.8"/>
<path d="M265.0,195.0 L273.5,195.0" fill="none" stroke="#c4c4c4" stroke-width="0.8"/>
<polygon points="275.6,195.0 273.5,193.8 273.5,196.2" fill="#b0b0b0" stroke="none" stroke-width="0"/>
<path d="M257.5,199.0 L263.0,199.0 L263.0,195.0" fill="none" stroke="#c4c4c4" stroke-width="0.8"/>
<polygon points="255.6,199.0 257.7,197.8 257.7,200.2" fill="#b0b0b0" stroke="none" stroke-width="0"/>
<path d="M254.0,204.3 L304.5,204.3" fill="none" stroke="#c4c4c4" stroke-width="0.8"/>
<polygon points="306.6,204.3 304.4,203.0 304.4,205.6" fill="#b0b0b0" stroke="none" stroke-width="0"/>
<path d="M287.4,192.5 L337.0,192.5" fill="none" stroke="#c4c4c4" stroke-width="0.8"/>
<polygon points="339.0,193.6 336.8,192.3 336.8,194.9" fill="#b0b0b0" stroke="none" stroke-width="0"/>
<path d="M317.0,204.3 L364.0,204.3" fill="none" stroke="#c4c4c4" stroke-width="0.8"/>
<path d="M350.0,194.4 L363.0,194.4" fill="none" stroke="#c4c4c4" stroke-width="0.8"/>
<polygon points="369.0,186.6 438.0,186.6 428.0,212.4 358.4,212.4" fill="none" stroke="#cfcfcf" stroke-width="0.7"/>
<path d="M388.0,195.0 L400.6,195.0" fill="none" stroke="#c4c4c4" stroke-width="0.8"/>
<polygon points="402.6,195.0 400.5,193.8 400.5,196.2" fill="#b0b0b0" stroke="none" stroke-width="0"/>
<path d="M375.4,203.0 L407.4,203.0 L407.4,199.6" fill="none" stroke="#c4c4c4" stroke-width="0.8"/>
<polygon points="407.4,198.6 406.4,200.4 408.4,200.4" fill="#b0b0b0" stroke="none" stroke-width="0"/>
<path d="M421.0,194.5 L421.0,199.5" fill="none" stroke="#f0a0a0" stroke-width="0.7"/>
<polygon points="421.0,201.0 420.0,199.2 422.0,199.2" fill="#f0a0a0" stroke="none" stroke-width="0"/>
<path d="M438.0,190.6 L442.5,190.6" fill="none" stroke="#c4c4c4" stroke-width="0.8"/>
<polygon points="444.4,190.6 442.3,189.4 442.3,191.8" fill="#b0b0b0" stroke="none" stroke-width="0"/>
<path d="M455.0,190.6 L468.0,190.6 L468.0,194.4 L474.5,194.4" fill="none" stroke="#c4c4c4" stroke-width="0.8"/>
<polygon points="476.6,194.4 474.5,193.2 474.5,195.6" fill="#b0b0b0" stroke="none" stroke-width="0"/>
<path d="M487.0,194.4 L503.5,194.4" fill="none" stroke="#c4c4c4" stroke-width="0.8"/>
<polygon points="505.6,194.4 503.5,193.2 503.5,195.6" fill="#b0b0b0" stroke="none" stroke-width="0"/>
<path d="M368.0,212.0 L368.0,215.4 L456.0,215.4" fill="none" stroke="#cfe3ee" stroke-width="0.8"/>
<polygon points="458.0,215.2 456.0,214.1 456.0,216.3" fill="#b9d3e0" stroke="none" stroke-width="0"/>
<path d="M421.0,212.0 L421.0,224.0 L474.0,224.0 L474.0,235.0" fill="none" stroke="#cfe3ee" stroke-width="0.7"/>
<path d="M368.0,215.4 L368.0,224.4 L337.0,224.4 L337.0,235.0" fill="none" stroke="#d0d0d0" stroke-width="0.7"/>
<text x="397" y="209.6" font-size="5.6" text-anchor="middle" textLength="27" lengthAdjust="spacingAndGlyphs" fill="#333">Component</text>
<polygon points="368.0,208.2 366.6,210.6 369.4,210.6" fill="#3fa85a" stroke="none" stroke-width="0"/>
<polygon points="421.0,208.2 419.6,210.6 422.4,210.6" fill="#3fa85a" stroke="none" stroke-width="0"/>
<circle cx="143.3" cy="192.0" r="1.9" fill="#1b7dc3"/>
<path d="M140.20000000000002,197.0 q0,-3.6 3.1,-3.6 q3.1,0 3.1,3.6 z" fill="#1b7dc3"/>
<circle cx="136.3" cy="206.4" r="1.9" fill="#1b7dc3"/>
<path d="M133.20000000000002,211.4 q0,-3.6 3.1,-3.6 q3.1,0 3.1,3.6 z" fill="#1b7dc3"/>
<polygon points="195.1,191.4 196.9,189.8 196.9,196.0 195.1,197.6" fill="#8aa3b4" stroke="none" stroke-width="0"/>
<polygon points="186.1,191.4 187.9,189.1 196.9,189.1 195.1,191.4" fill="#2d6b96" stroke="none" stroke-width="0"/>
<rect x="186.1" y="191.4" width="9" height="6.2" fill="#d8ecf9" stroke="#6f8fa3" stroke-width="0.7"/>
<polygon points="223.3,191.4 225.1,189.8 225.1,196.0 223.3,197.6" fill="#8aa3b4" stroke="none" stroke-width="0"/>
<polygon points="214.3,191.4 216.1,189.1 225.1,189.1 223.3,191.4" fill="#2d6b96" stroke="none" stroke-width="0"/>
<rect x="214.3" y="191.4" width="9" height="6.2" fill="#d8ecf9" stroke="#6f8fa3" stroke-width="0.7"/>
<polygon points="172.3,206.0 174.1,204.4 174.1,210.6 172.3,212.2" fill="#8aa3b4" stroke="none" stroke-width="0"/>
<polygon points="163.3,206.0 165.1,203.7 174.1,203.7 172.3,206.0" fill="#2d6b96" stroke="none" stroke-width="0"/>
<rect x="163.3" y="206.0" width="9" height="6.2" fill="#d8ecf9" stroke="#6f8fa3" stroke-width="0.7"/>
<polygon points="253.3,198.4 255.1,196.8 255.1,203.0 253.3,204.6" fill="#8aa3b4" stroke="none" stroke-width="0"/>
<polygon points="244.3,198.4 246.1,196.1 255.1,196.1 253.3,198.4" fill="#2d6b96" stroke="none" stroke-width="0"/>
<rect x="244.3" y="198.4" width="9" height="6.2" fill="#d8ecf9" stroke="#6f8fa3" stroke-width="0.7"/>
<polygon points="285.5,190.0 287.3,188.4 287.3,194.6 285.5,196.2" fill="#8aa3b4" stroke="none" stroke-width="0"/>
<polygon points="276.5,190.0 278.3,187.7 287.3,187.7 285.5,190.0" fill="#2d6b96" stroke="none" stroke-width="0"/>
<rect x="276.5" y="190.0" width="9" height="6.2" fill="#d8ecf9" stroke="#6f8fa3" stroke-width="0.7"/>
<polygon points="316.5,200.8 318.3,199.2 318.3,205.4 316.5,207.0" fill="#8aa3b4" stroke="none" stroke-width="0"/>
<polygon points="307.5,200.8 309.3,198.5 318.3,198.5 316.5,200.8" fill="#2d6b96" stroke="none" stroke-width="0"/>
<rect x="307.5" y="200.8" width="9" height="6.2" fill="#d8ecf9" stroke="#6f8fa3" stroke-width="0.7"/>
<polygon points="348.9,191.6 350.7,190.0 350.7,196.2 348.9,197.8" fill="#8aa3b4" stroke="none" stroke-width="0"/>
<polygon points="339.9,191.6 341.7,189.3 350.7,189.3 348.9,191.6" fill="#2d6b96" stroke="none" stroke-width="0"/>
<rect x="339.9" y="191.6" width="9" height="6.2" fill="#d8ecf9" stroke="#6f8fa3" stroke-width="0.7"/>
<polygon points="453.5,188.0 455.3,186.4 455.3,192.6 453.5,194.2" fill="#8aa3b4" stroke="none" stroke-width="0"/>
<polygon points="444.5,188.0 446.3,185.7 455.3,185.7 453.5,188.0" fill="#2d6b96" stroke="none" stroke-width="0"/>
<rect x="444.5" y="188.0" width="9" height="6.2" fill="#d8ecf9" stroke="#6f8fa3" stroke-width="0.7"/>
<polygon points="485.9,191.6 487.7,190.0 487.7,196.2 485.9,197.8" fill="#8aa3b4" stroke="none" stroke-width="0"/>
<polygon points="476.9,191.6 478.7,189.3 487.7,189.3 485.9,191.6" fill="#2d6b96" stroke="none" stroke-width="0"/>
<rect x="476.9" y="191.6" width="9" height="6.2" fill="#d8ecf9" stroke="#6f8fa3" stroke-width="0.7"/>
<polygon points="514.9,191.6 516.7,190.0 516.7,196.2 514.9,197.8" fill="#8aa3b4" stroke="none" stroke-width="0"/>
<polygon points="505.9,191.6 507.7,189.3 516.7,189.3 514.9,191.6" fill="#2d6b96" stroke="none" stroke-width="0"/>
<rect x="505.9" y="191.6" width="9" height="6.2" fill="#d8ecf9" stroke="#6f8fa3" stroke-width="0.7"/>
<polygon points="467.9,210.2 469.7,208.6 469.7,214.8 467.9,216.4" fill="#8aa3b4" stroke="none" stroke-width="0"/>
<polygon points="458.9,210.2 460.7,207.9 469.7,207.9 467.9,210.2" fill="#2d6b96" stroke="none" stroke-width="0"/>
<rect x="458.9" y="210.2" width="9" height="6.2" fill="#d8ecf9" stroke="#6f8fa3" stroke-width="0.7"/>
<rect x="378.4" y="191.4" width="9.2" height="7.2" fill="#d8ecf9" stroke="#6f8fa3" stroke-width="0.6"/>
<rect x="378.4" y="191.4" width="9.2" height="1.7" fill="#3a7aa6"/>
<rect x="402.8" y="191.4" width="9.2" height="7.2" fill="#d8ecf9" stroke="#6f8fa3" stroke-width="0.6"/>
<rect x="402.8" y="191.4" width="9.2" height="1.7" fill="#3a7aa6"/>
<rect x="366.0" y="201.0" width="9.2" height="7.2" fill="#d8ecf9" stroke="#6f8fa3" stroke-width="0.6"/>
<rect x="366.0" y="201.0" width="9.2" height="1.7" fill="#3a7aa6"/>
<rect x="416.4" y="201.0" width="9.2" height="7.2" fill="#d8ecf9" stroke="#6f8fa3" stroke-width="0.6"/>
<rect x="416.4" y="201.0" width="9.2" height="1.7" fill="#3a7aa6"/>
<polygon points="132.6,103.0 539.6,103.0 523.0,154.4 117.8,154.4" fill="none" stroke="#c8c8c8" stroke-width="0.8"/>
<text x="137" y="110.8" font-size="5.4" textLength="27" lengthAdjust="spacingAndGlyphs" fill="#333">Transaction</text>
<text x="137" y="118.4" font-size="7.2" textLength="29" lengthAdjust="spacingAndGlyphs" fill="#333">交易路径</text>
<path d="M189.7,128.8 L189.7,165.5 L143.6,165.5 L143.6,190.0" fill="none" stroke="#c9c9c9" stroke-width="0.7"/>
<polygon points="189.7,127.2 188.3,129.7 191.1,129.7" fill="#b5b5b5" stroke="none" stroke-width="0"/>
<path d="M154.6,149.6 L154.6,163.0 L141.8,163.0 L141.8,190.0" fill="none" stroke="#c9c9c9" stroke-width="0.7"/>
<polygon points="154.6,148.0 153.2,150.5 156.0,150.5" fill="#b5b5b5" stroke="none" stroke-width="0"/>
<path d="M233.4,149.4 L233.4,169.5 L220.3,169.5 L220.3,189.0" fill="none" stroke="#c9c9c9" stroke-width="0.7"/>
<polygon points="233.4,147.8 232.0,150.3 234.8,150.3" fill="#b5b5b5" stroke="none" stroke-width="0"/>
<path d="M295.4,149.4 L295.4,168.0 L282.5,168.0 L282.5,188.0" fill="none" stroke="#c9c9c9" stroke-width="0.7"/>
<polygon points="295.4,147.8 294.0,150.3 296.8,150.3" fill="#b5b5b5" stroke="none" stroke-width="0"/>
<path d="M369.6,149.4 L369.6,166.0 L382.0,166.0 L382.0,191.0" fill="none" stroke="#c9c9c9" stroke-width="0.7"/>
<polygon points="369.6,147.8 368.2,150.3 371.0,150.3" fill="#b5b5b5" stroke="none" stroke-width="0"/>
<path d="M493.6,149.4 L493.6,167.0 L511.4,167.0 L511.4,190.0" fill="none" stroke="#c9c9c9" stroke-width="0.7"/>
<polygon points="493.6,147.8 492.2,150.3 495.0,150.3" fill="#b5b5b5" stroke="none" stroke-width="0"/>
<path d="M197.2,116.2 L280.0,116.2" fill="none" stroke="#8fbc8f" stroke-width="0.8"/>
<path d="M197.2,119.6 L280.0,119.6" fill="none" stroke="#7ea9c4" stroke-width="0.9"/>
<path d="M197.2,122.2 L280.0,122.2" fill="none" stroke="#c4ddef" stroke-width="0.8"/>
<polygon points="282.0,116.2 279.6,114.8 279.6,117.6" fill="#3f9e4f" stroke="none" stroke-width="0"/>
<polygon points="282.0,119.6 279.6,118.2 279.6,121.0" fill="#2b78b0" stroke="none" stroke-width="0"/>
<polygon points="282.0,122.2 279.9,121.0 279.9,123.4" fill="#9cc8e6" stroke="none" stroke-width="0"/>
<path d="M295.0,114.2 L361.0,114.2 L361.0,120.5" fill="none" stroke="#8fbc8f" stroke-width="0.8"/>
<path d="M295.0,115.8 L357.6,115.8 L357.6,120.5" fill="none" stroke="#5d98bd" stroke-width="0.9"/>
<path d="M295.0,117.4 L355.0,117.4" fill="none" stroke="#c4ddef" stroke-width="0.8"/>
<polygon points="361.0,122.4 359.6,120.0 362.4,120.0" fill="#3f9e4f" stroke="none" stroke-width="0"/>
<polygon points="357.6,122.4 356.2,120.0 359.0,120.0" fill="#2b78b0" stroke="none" stroke-width="0"/>
<path d="M368.0,122.0 L368.0,114.6 L442.0,114.6" fill="none" stroke="#8fbc8f" stroke-width="0.8"/>
<path d="M372.0,122.0 L372.0,118.4 L442.0,118.4" fill="none" stroke="#3d7fae" stroke-width="1.0"/>
<path d="M374.0,121.0 L442.0,121.0" fill="none" stroke="#c4ddef" stroke-width="0.8"/>
<polygon points="444.0,114.6 441.6,113.2 441.6,116.0" fill="#3f9e4f" stroke="none" stroke-width="0"/>
<polygon points="444.0,118.4 441.6,117.0 441.6,119.8" fill="#2b78b0" stroke="none" stroke-width="0"/>
<polygon points="444.0,121.0 441.9,119.8 441.9,122.2" fill="#9cc8e6" stroke="none" stroke-width="0"/>
<path d="M164.0,138.4 L225.0,138.4" fill="none" stroke="#bcd9ea" stroke-width="0.8"/>
<path d="M164.0,143.4 L225.0,143.4" fill="none" stroke="#e89a9a" stroke-width="0.8"/>
<polygon points="226.6,138.4 224.5,137.2 224.5,139.6" fill="#a9cde3" stroke="none" stroke-width="0"/>
<polygon points="226.6,143.4 224.2,142.0 224.2,144.8" fill="#e07a7a" stroke="none" stroke-width="0"/>
<path d="M240.0,138.4 L287.0,138.4" fill="none" stroke="#bcd9ea" stroke-width="0.8"/>
<path d="M240.0,143.4 L287.0,143.4" fill="none" stroke="#e89a9a" stroke-width="0.8"/>
<polygon points="288.6,138.4 286.5,137.2 286.5,139.6" fill="#a9cde3" stroke="none" stroke-width="0"/>
<polygon points="288.6,143.4 286.2,142.0 286.2,144.8" fill="#e07a7a" stroke="none" stroke-width="0"/>
<path d="M302.0,138.4 L484.5,138.4" fill="none" stroke="#bcd9ea" stroke-width="0.8"/>
<path d="M302.0,143.2 L484.5,143.2" fill="none" stroke="#f0a5a5" stroke-width="0.8"/>
<polygon points="486.4,138.4 484.3,137.2 484.3,139.6" fill="#a9cde3" stroke="none" stroke-width="0"/>
<polygon points="486.4,143.2 484.0,141.8 484.0,144.6" fill="#e07a7a" stroke="none" stroke-width="0"/>
<path d="M374.4,137.6 L374.4,143.2" fill="none" stroke="#e88a8a" stroke-width="0.7"/>
<path d="M386.4,137.6 L386.4,143.2" fill="none" stroke="#e88a8a" stroke-width="0.7"/>
<polygon points="189.7,115.0 196.0,125.8 183.4,125.8" fill="none" stroke="#2a7fb5" stroke-width="1.0" stroke-dasharray="1.6 1.2"/>
<circle cx="184.1" cy="125.8" r="1.1" fill="#1d6e9f"/>
<circle cx="195.1" cy="123.19999999999999" r="1.1" fill="#1d6e9f"/>
<circle cx="188.1" cy="116.39999999999999" r="1.1" fill="#1d6e9f"/>
<polygon points="156.2,135.8 162.5,146.6 149.9,146.6" fill="none" stroke="#2a7fb5" stroke-width="1.0" stroke-dasharray="1.6 1.2"/>
<circle cx="150.6" cy="146.6" r="1.1" fill="#1d6e9f"/>
<circle cx="161.6" cy="144.0" r="1.1" fill="#1d6e9f"/>
<circle cx="154.6" cy="137.20000000000002" r="1.1" fill="#1d6e9f"/>
<rect x="282.4" y="113.8" width="9" height="12.6" fill="#ddebf3" stroke="#a6c5d6" stroke-width="0.7"/>
<rect x="289.0" y="117.0" width="6" height="9.4" fill="#d3e6f0" stroke="#a6c5d6" stroke-width="0.7"/>
<rect x="284.79999999999995" y="117.2" width="3.2" height="2" fill="#fff" stroke="#6b8797" stroke-width="0.5"/>
<circle cx="286.0" cy="122.8" r="1.7" fill="#fff" stroke="#6b8797" stroke-width="0.5"/>
<circle cx="291.79999999999995" cy="122.8" r="1.5" fill="#9fb9c6" stroke="#6b8797" stroke-width="0.5"/>
<path d="M286.4,119.2 L286.0,121.1" fill="none" stroke="#6b8797" stroke-width="0.5"/>
<rect x="227" y="134.3" width="9" height="12.6" fill="#ddebf3" stroke="#a6c5d6" stroke-width="0.7"/>
<rect x="233.6" y="137.5" width="6" height="9.4" fill="#d3e6f0" stroke="#a6c5d6" stroke-width="0.7"/>
<rect x="229.4" y="137.70000000000002" width="3.2" height="2" fill="#fff" stroke="#6b8797" stroke-width="0.5"/>
<circle cx="230.6" cy="143.3" r="1.7" fill="#fff" stroke="#6b8797" stroke-width="0.5"/>
<circle cx="236.4" cy="143.3" r="1.5" fill="#9fb9c6" stroke="#6b8797" stroke-width="0.5"/>
<path d="M231.0,139.7 L230.6,141.6" fill="none" stroke="#6b8797" stroke-width="0.5"/>
<rect x="289" y="134.3" width="9" height="12.6" fill="#ddebf3" stroke="#a6c5d6" stroke-width="0.7"/>
<rect x="295.6" y="137.5" width="6" height="9.4" fill="#d3e6f0" stroke="#a6c5d6" stroke-width="0.7"/>
<rect x="291.4" y="137.70000000000002" width="3.2" height="2" fill="#fff" stroke="#6b8797" stroke-width="0.5"/>
<circle cx="292.6" cy="143.3" r="1.7" fill="#fff" stroke="#6b8797" stroke-width="0.5"/>
<circle cx="298.4" cy="143.3" r="1.5" fill="#9fb9c6" stroke="#6b8797" stroke-width="0.5"/>
<path d="M293.0,139.7 L292.6,141.6" fill="none" stroke="#6b8797" stroke-width="0.5"/>
<rect x="445" y="113.4" width="9" height="12.6" fill="#ddebf3" stroke="#a6c5d6" stroke-width="0.7"/>
<rect x="451.6" y="116.60000000000001" width="6" height="9.4" fill="#d3e6f0" stroke="#a6c5d6" stroke-width="0.7"/>
<rect x="447.4" y="116.80000000000001" width="3.2" height="2" fill="#fff" stroke="#6b8797" stroke-width="0.5"/>
<circle cx="448.6" cy="122.4" r="1.7" fill="#fff" stroke="#6b8797" stroke-width="0.5"/>
<circle cx="454.4" cy="122.4" r="1.5" fill="#9fb9c6" stroke="#6b8797" stroke-width="0.5"/>
<path d="M449.0,118.8 L448.6,120.7" fill="none" stroke="#6b8797" stroke-width="0.5"/>
<rect x="487" y="134.2" width="9" height="12.6" fill="#ddebf3" stroke="#a6c5d6" stroke-width="0.7"/>
<rect x="493.6" y="137.39999999999998" width="6" height="9.4" fill="#d3e6f0" stroke="#a6c5d6" stroke-width="0.7"/>
<rect x="489.4" y="137.6" width="3.2" height="2" fill="#fff" stroke="#6b8797" stroke-width="0.5"/>
<circle cx="490.6" cy="143.2" r="1.7" fill="#fff" stroke="#6b8797" stroke-width="0.5"/>
<circle cx="496.4" cy="143.2" r="1.5" fill="#9fb9c6" stroke="#6b8797" stroke-width="0.5"/>
<path d="M491.0,139.6 L490.6,141.5" fill="none" stroke="#6b8797" stroke-width="0.5"/>
<polygon points="354.4,110.6 405.0,110.6 393.6,145.4 343.0,145.4" fill="none" stroke="#c9c9c9" stroke-width="0.7"/>
<rect x="353.6" y="122.6" width="7" height="11.5" fill="#d9e8f1" stroke="#a6c5d6" stroke-width="0.7"/>
<rect x="353.6" y="126.6" width="10.4" height="7.5" fill="#d3e6f0" stroke="#a6c5d6" stroke-width="0.7"/>
<rect x="356.20000000000005" y="128.79999999999998" width="4.6" height="3" fill="#c3d9e6" stroke="#55809a" stroke-width="0.6"/>
<rect x="367.6" y="122.6" width="7" height="11.5" fill="#d9e8f1" stroke="#a6c5d6" stroke-width="0.7"/>
<rect x="367.6" y="126.6" width="10.4" height="7.5" fill="#d3e6f0" stroke="#a6c5d6" stroke-width="0.7"/>
<rect x="370.20000000000005" y="128.79999999999998" width="4.6" height="3" fill="#c3d9e6" stroke="#55809a" stroke-width="0.6"/>
<rect x="381.6" y="122.6" width="7" height="11.5" fill="#d9e8f1" stroke="#a6c5d6" stroke-width="0.7"/>
<rect x="381.6" y="126.6" width="10.4" height="7.5" fill="#d3e6f0" stroke="#a6c5d6" stroke-width="0.7"/>
<rect x="384.20000000000005" y="128.79999999999998" width="4.6" height="3" fill="#c3d9e6" stroke="#55809a" stroke-width="0.6"/>
<text x="372.2" y="139.2" font-size="5.6" text-anchor="middle" textLength="36" lengthAdjust="spacingAndGlyphs" fill="#333">Logical Module</text>
</svg>
<div class="b" style="left:575.6px;top:123.4px;width:10.4px;height:10.4px;background:#fff;"></div>
<p class="h1" style="top:107.7px;"><span class="lat">AIOps</span>在运维五要素<br>上都能发挥作用<span class="jp" lang="ja" style="--dy:2.5px;margin-left:1px;">：</span></p>
<p class="sub" style="left:626.6px;top:197.3px;">质量、性能、效率、成本、安全</p>
<div class="b" style="left:576px;top:292.4px;width:12px;height:12px;background:#ffc000;"></div>
<p class="h1" style="top:275px;left:621.6px;line-height:54px;"><span style="font-size:45px;letter-spacing:0.9px;color:#ffc000;-webkit-text-stroke:0.9px #ffc000;display:inline-block;transform:scaleY(0.965);transform-origin:50% 22%;">统筹规划</span><span style="margin-left:-1.4px;">优先级<span class="jp" lang="ja" style="margin-left:3px;">：</span></span></p>
<p class="sub" style="left:648.6px;top:326.8px;">质量<span style="margin:0 2.2px;">&gt;</span>性能<span style="margin:0 2.2px;">&gt;</span>成本</p>
<div class="foot">本图来自互联网</div>
<div class="thu">清华大学</div>
<div class="sep"></div>
<div class="nm">NetMan</div>
<div class="pg">11</div>
<svg class="wmtop" width="1000" height="563" viewBox="0 0 1000 563">
<defs><clipPath id="cpR"><rect x="555" y="0" width="445" height="563"/></clipPath></defs>
<g clip-path="url(#cpR)"><g transform="translate(254.5,156.5) rotate(24.4)" opacity="0.16" font-size="40" font-weight="bold" fill="#48c6e8" stroke="#48c6e8" stroke-width="1.1">
<text x="0" y="0" textLength="277" lengthAdjust="spacing">裴丹@清华大学</text>
<text x="289" y="-3.5" font-size="42.5" font-weight="normal" stroke-width="1.3" textLength="143" lengthAdjust="spacingAndGlyphs">NetMan</text>
<text x="430" y="0" textLength="116" lengthAdjust="spacing">实验室</text>
</g></g>
</svg>
</body>
</html>
